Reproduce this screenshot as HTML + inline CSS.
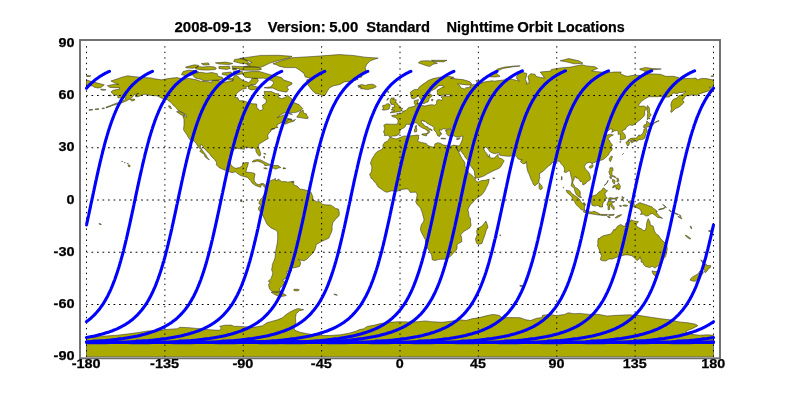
<!DOCTYPE html>
<html><head><meta charset="utf-8"><title>Nighttime Orbit Locations</title>
<style>
html,body{margin:0;padding:0;background:#fff;}
svg{display:block}
text{font-family:"Liberation Sans",sans-serif;font-weight:bold;fill:#000;stroke:#000;stroke-width:0.25px}
</style></head><body>
<svg width="800" height="400" viewBox="0 0 800 400">
<rect width="800" height="400" fill="#fff"/>
<defs><clipPath id="c"><rect x="86" y="43.25" width="628" height="313.7"/></clipPath><clipPath id="t"><rect x="84" y="43.25" width="632" height="313.5"/></clipPath></defs>
<g clip-path="url(#c)">
<g fill="#abaa00" stroke="#222" stroke-width="0.5" stroke-linejoin="round">
<path d="M107.4,85.7 L114.4,84.2 L118.7,84.5 L115.2,83.1 L110.9,81.0 L116.1,79.3 L121.3,77.4 L127.4,75.8 L135.3,76.7 L142.2,77.4 L150.9,77.9 L154.4,78.8 L161.4,79.8 L165.7,79.0 L171.8,78.1 L177.1,77.6 L182.3,79.0 L189.3,78.4 L196.2,79.8 L200.6,81.2 L208.4,81.7 L211.9,82.4 L211.9,80.7 L217.1,80.3 L224.1,82.1 L229.3,81.6 L232.8,81.0 L232.8,78.1 L235.4,74.8 L238.9,77.2 L240.6,79.0 L243.2,80.7 L246.7,81.6 L248.5,82.8 L251.1,80.2 L252.0,78.4 L257.2,78.6 L258.4,80.7 L255.4,84.5 L250.2,84.7 L248.5,86.4 L245.0,86.3 L246.7,88.2 L242.4,89.2 L238.9,91.5 L236.3,93.8 L235.1,97.6 L238.0,97.8 L238.9,100.7 L243.2,100.7 L246.7,101.9 L252.0,103.7 L256.7,104.0 L256.8,107.7 L258.9,109.4 L259.8,110.7 L261.5,110.3 L262.9,108.6 L262.4,105.1 L265.9,103.0 L266.4,99.9 L263.3,97.6 L265.0,95.5 L264.1,91.5 L271.1,91.5 L275.5,93.4 L279.0,93.9 L278.1,97.2 L281.6,98.5 L285.1,97.6 L287.3,95.0 L292.0,99.0 L293.8,102.5 L299.0,104.6 L300.7,106.5 L302.8,108.6 L300.9,110.5 L295.5,112.6 L288.5,112.6 L284.2,112.9 L280.7,114.7 L277.2,117.8 L281.6,115.7 L286.8,114.3 L288.2,115.2 L286.8,116.7 L287.7,119.5 L292.9,120.4 L295.5,119.5 L293.8,121.3 L289.4,122.5 L285.4,124.2 L284.7,122.8 L287.7,121.1 L283.3,121.6 L279.8,123.4 L277.2,124.6 L276.9,126.8 L278.1,127.4 L275.5,127.9 L271.1,129.3 L271.1,131.2 L268.9,132.9 L267.6,135.6 L268.3,138.5 L265.0,140.4 L262.4,142.0 L258.9,144.3 L258.2,146.9 L259.8,150.7 L260.7,153.8 L260.0,156.1 L258.1,155.1 L256.0,151.6 L255.8,149.1 L253.7,147.8 L251.1,148.3 L247.6,147.2 L244.1,147.4 L244.6,149.3 L241.5,149.0 L237.2,148.3 L234.5,149.1 L231.1,151.2 L230.5,154.7 L229.7,160.8 L230.7,164.3 L232.8,166.9 L235.4,168.3 L239.8,167.6 L242.4,165.5 L242.7,163.4 L245.9,162.6 L248.5,162.6 L247.6,166.0 L246.7,168.7 L245.9,172.1 L250.2,172.5 L253.7,173.0 L255.1,173.9 L254.2,178.2 L254.2,180.8 L256.3,183.8 L258.9,184.7 L261.2,183.5 L264.1,183.8 L265.4,185.2 L267.6,183.8 L268.5,181.5 L270.2,180.8 L273.7,179.4 L275.5,178.4 L275.5,180.8 L278.1,180.0 L278.1,178.9 L280.7,180.8 L281.6,181.7 L285.1,181.5 L287.7,182.2 L292.0,181.4 L293.8,183.5 L294.1,185.2 L297.2,186.1 L299.9,189.0 L304.2,189.7 L308.6,190.9 L311.2,192.5 L312.9,196.9 L312.9,200.0 L315.5,200.9 L316.4,201.7 L319.9,201.7 L322.8,204.4 L326.9,204.9 L330.3,204.9 L332.9,206.4 L335.6,208.4 L338.5,209.1 L339.4,213.1 L339.0,215.7 L335.6,219.2 L332.9,222.6 L332.1,226.1 L332.1,230.5 L330.3,234.8 L328.6,238.3 L324.8,240.1 L321.6,241.5 L316.4,244.4 L315.4,247.9 L314.7,250.5 L312.0,254.0 L309.4,256.6 L306.8,259.2 L304.2,260.8 L299.9,260.1 L298.3,259.2 L300.4,261.8 L300.7,263.6 L299.5,266.5 L293.8,267.9 L291.5,267.9 L291.7,271.1 L286.8,271.4 L286.8,273.7 L289.1,274.0 L286.8,275.8 L285.9,278.4 L282.4,280.1 L285.1,282.2 L285.1,283.6 L282.1,286.2 L279.8,288.0 L279.8,290.6 L281.0,291.4 L276.3,292.3 L272.0,291.4 L269.4,288.8 L268.5,284.5 L270.2,281.9 L268.2,281.3 L271.1,278.4 L272.0,275.8 L272.9,273.1 L271.6,269.7 L272.3,266.2 L272.3,264.4 L273.6,261.8 L275.1,257.5 L275.5,252.2 L276.3,247.9 L277.2,243.5 L277.7,238.3 L277.6,231.9 L275.5,230.1 L271.1,227.9 L267.1,224.4 L265.5,220.9 L263.3,216.5 L261.0,212.2 L258.9,210.4 L258.4,207.8 L260.1,205.9 L260.7,204.4 L258.9,203.8 L259.3,201.7 L260.7,199.1 L262.4,197.9 L262.8,196.5 L265.0,193.4 L265.4,190.4 L265.0,187.8 L264.1,186.9 L263.6,185.5 L261.5,184.5 L260.7,187.3 L258.1,186.4 L255.4,185.5 L252.0,182.9 L250.6,180.8 L247.6,177.4 L245.9,177.0 L241.5,175.8 L238.9,174.6 L235.4,171.8 L231.9,172.7 L227.6,171.1 L223.2,169.5 L218.9,167.4 L216.3,164.8 L216.6,162.6 L214.5,159.4 L211.0,155.9 L209.3,153.5 L206.7,151.2 L203.7,147.8 L202.3,145.1 L200.2,144.8 L200.6,147.8 L203.5,151.8 L205.8,154.7 L207.5,157.7 L209.3,159.8 L207.9,159.1 L204.9,156.8 L204.4,154.4 L201.4,152.6 L199.7,151.2 L201.4,149.8 L198.5,147.4 L196.2,143.4 L193.6,140.8 L190.1,139.9 L187.7,136.3 L186.6,134.2 L184.4,131.2 L183.5,129.6 L184.0,125.1 L184.0,119.5 L182.8,115.7 L186.6,117.3 L186.1,114.7 L182.3,112.4 L177.9,110.3 L176.2,107.7 L173.1,105.1 L171.0,102.5 L167.5,99.9 L162.3,98.5 L157.0,95.8 L150.9,95.5 L145.7,94.3 L142.2,94.6 L138.8,96.5 L135.6,96.9 L136.1,94.6 L138.8,93.4 L134.4,94.6 L132.7,96.7 L130.9,98.5 L127.4,100.4 L123.9,102.1 L120.5,103.3 L116.1,104.6 L113.0,105.3 L110.0,106.6 L106.0,107.9 L106.5,106.8 L110.0,105.8 L113.0,104.4 L117.8,102.8 L121.3,101.6 L124.8,99.9 L126.0,97.8 L123.1,97.8 L117.8,97.8 L117.8,95.5 L113.5,94.6 L111.8,92.9 L110.9,92.0 L113.1,90.3 L119.6,89.1 L119.6,87.7 L116.1,87.7 L110.0,87.5Z M280.7,292.0 L286.4,295.3 L284.2,296.1 L279.8,296.7 L275.5,294.9 L271.1,292.3 L276.7,292.0Z M185.3,115.7 L181.4,115.0 L176.5,111.7 L178.8,111.5 L182.3,112.9 L184.9,114.7Z M272.9,63.8 L281.6,60.7 L292.0,57.7 L312.9,56.5 L339.0,54.6 L353.0,55.4 L365.2,57.2 L378.2,58.1 L370.4,60.7 L366.9,64.2 L365.2,67.6 L366.0,71.1 L361.7,73.7 L361.7,77.2 L354.7,77.7 L358.2,79.3 L353.0,81.0 L344.3,81.9 L339.9,84.5 L333.8,85.7 L329.5,87.7 L327.7,90.6 L325.1,95.2 L322.5,95.7 L319.0,94.1 L315.5,93.4 L312.0,90.3 L309.4,86.8 L306.8,83.3 L306.8,79.8 L311.2,78.4 L305.1,76.9 L304.2,73.7 L299.9,70.2 L295.5,67.6 L285.1,67.6 L279.8,66.4 L276.3,64.7Z M286.8,92.0 L288.5,89.4 L286.8,86.8 L292.0,84.2 L292.0,82.8 L283.3,79.8 L281.6,77.6 L276.3,76.3 L271.1,74.9 L265.9,73.4 L259.8,71.6 L252.0,71.5 L244.1,72.3 L243.2,74.6 L245.0,77.2 L252.0,78.1 L257.2,78.4 L263.3,78.1 L269.4,79.8 L272.9,81.2 L273.7,83.3 L272.0,85.0 L271.1,86.8 L264.1,87.7 L267.6,88.2 L272.9,88.0 L275.5,89.4 L278.1,90.6 L285.1,92.0Z M195.4,78.1 L201.4,79.5 L203.2,80.7 L211.9,80.3 L218.0,80.2 L223.2,79.0 L222.3,77.2 L218.0,76.3 L217.1,73.7 L211.9,72.5 L206.7,73.2 L200.6,72.3 L193.6,73.4 L192.7,75.5Z M181.4,74.6 L185.8,76.0 L191.0,75.5 L194.5,73.2 L198.8,72.0 L195.4,70.6 L188.4,70.2 L183.2,71.5Z M243.2,66.8 L260.7,67.3 L264.1,65.9 L269.4,63.3 L278.1,60.7 L290.3,57.5 L292.0,56.3 L278.1,55.3 L260.7,55.4 L248.5,57.2 L239.8,58.4 L248.5,60.7 L252.0,62.4 L246.7,64.2 L250.2,65.4Z M247.6,63.8 L241.5,63.6 L233.7,61.5 L234.5,59.4 L241.5,58.6 L246.7,60.3 L248.5,62.4Z M231.9,66.2 L239.8,66.4 L245.0,66.9 L253.7,66.9 L260.7,68.0 L261.5,69.4 L258.1,70.2 L246.7,70.2 L239.8,70.1 L238.9,68.5 L232.8,68.3Z M233.7,71.1 L242.4,71.5 L243.2,73.7 L238.0,74.6 L233.7,73.7Z M222.3,72.9 L231.1,72.0 L231.9,74.6 L227.6,75.5 L222.3,74.6Z M196.2,69.0 L201.4,69.9 L208.4,70.1 L215.4,69.5 L216.3,68.0 L213.6,66.8 L208.4,66.4 L203.2,67.1 L198.0,66.6 L195.4,68.0Z M218.9,66.6 L229.3,66.2 L230.2,68.5 L226.7,69.4 L222.3,68.9 L218.9,68.5Z M185.8,67.8 L192.7,68.3 L198.0,66.9 L198.8,65.4 L194.5,64.8 L189.3,66.1 L185.8,66.9Z M248.5,88.5 L251.1,89.9 L257.2,89.1 L259.8,87.7 L253.7,85.9 L252.0,85.0 L248.5,86.3Z M227.6,79.8 L232.8,80.5 L233.7,79.0 L229.3,78.1Z M296.7,117.1 L302.5,118.1 L307.7,118.7 L308.2,117.1 L306.8,115.5 L306.3,113.8 L303.3,112.9 L303.3,110.1 L299.9,112.0 L299.0,114.1Z M252.0,161.9 L253.7,160.3 L257.2,159.6 L260.7,159.9 L265.0,162.2 L268.5,163.9 L270.8,164.8 L269.4,165.3 L264.7,165.5 L264.1,163.9 L260.7,162.2 L257.2,161.0 L253.7,162.0Z M270.4,168.0 L272.9,165.3 L275.1,165.5 L278.1,165.5 L280.9,167.6 L278.1,168.1 L275.5,169.2 L273.7,168.3Z M263.6,168.0 L265.9,167.8 L267.3,168.7 L265.5,169.0Z M283.0,167.8 L285.7,168.0 L285.4,168.7 L283.0,168.7Z M389.7,137.6 L390.8,137.5 L394.8,138.7 L396.5,138.9 L400.0,137.6 L402.6,136.4 L405.2,135.9 L408.7,135.9 L413.1,135.6 L417.1,135.0 L419.2,135.6 L418.3,136.8 L418.8,139.0 L417.4,140.4 L419.2,141.7 L421.8,142.7 L423.0,142.7 L426.6,143.7 L427.0,145.1 L430.5,146.4 L433.1,147.2 L434.8,146.0 L434.8,143.9 L437.8,142.7 L440.1,143.2 L443.5,145.0 L447.0,145.5 L450.5,146.2 L452.2,145.5 L454.0,145.1 L456.3,145.7 L456.8,147.8 L456.8,148.6 L458.3,151.2 L459.2,153.0 L461.0,156.5 L461.8,158.2 L464.4,161.7 L465.0,163.4 L464.8,166.0 L467.1,168.7 L468.8,173.0 L471.4,174.7 L474.0,177.4 L475.4,178.2 L475.2,179.6 L476.6,181.7 L478.4,181.9 L481.9,180.5 L485.3,180.3 L489.2,179.1 L488.8,181.7 L488.0,184.3 L486.2,187.8 L484.5,191.3 L481.9,194.8 L479.2,196.5 L476.6,198.3 L474.0,200.9 L472.3,203.1 L470.5,204.4 L469.1,207.0 L467.9,209.6 L468.4,211.8 L468.8,213.9 L469.1,217.4 L470.5,218.3 L470.5,221.8 L471.1,225.3 L469.7,227.9 L466.2,230.1 L464.1,231.3 L460.8,234.5 L461.7,238.3 L461.8,241.8 L457.5,244.1 L457.0,245.3 L457.1,247.9 L456.3,250.2 L454.0,252.2 L452.2,254.5 L449.6,257.1 L447.0,258.5 L444.8,259.2 L440.9,259.2 L438.3,259.6 L434.8,260.6 L432.2,259.7 L431.9,257.1 L431.7,255.2 L430.1,252.2 L428.7,249.8 L426.6,247.0 L425.8,243.5 L425.3,239.7 L423.5,236.6 L421.8,233.1 L420.6,230.5 L420.6,227.9 L421.4,224.4 L423.5,221.8 L424.0,219.2 L423.0,215.7 L421.8,211.3 L421.2,210.4 L420.9,208.7 L419.2,206.6 L417.1,204.4 L415.7,201.7 L416.2,200.0 L416.5,198.3 L417.1,195.6 L416.9,193.4 L415.5,192.2 L412.2,192.3 L410.4,192.5 L409.1,190.4 L407.8,189.0 L405.9,188.9 L402.1,189.4 L400.0,190.1 L396.5,191.6 L394.4,191.1 L391.3,190.9 L386.9,192.3 L384.3,191.3 L381.2,189.0 L378.2,187.1 L377.0,185.2 L376.1,183.5 L373.9,181.2 L373.0,179.4 L370.9,178.2 L370.7,176.5 L369.5,174.4 L371.3,172.1 L371.8,168.7 L371.8,166.4 L371.3,165.2 L370.4,163.4 L371.3,160.8 L372.1,158.7 L374.2,155.6 L374.7,154.4 L376.8,151.9 L377.5,151.4 L380.3,150.2 L382.6,148.6 L383.1,146.9 L382.9,145.1 L384.3,143.0 L385.2,142.0 L386.8,141.5 L388.2,140.6 L389.2,138.7Z M485.9,220.9 L488.0,227.0 L486.2,230.5 L485.0,234.8 L482.7,240.9 L481.9,243.5 L478.4,244.4 L476.6,243.2 L475.4,239.2 L477.2,234.8 L476.6,231.3 L477.5,228.2 L480.1,227.3 L482.7,225.3 L484.5,223.0Z M384.3,135.6 L384.7,132.9 L383.5,132.4 L384.7,128.6 L383.8,125.1 L386.1,123.9 L390.4,124.2 L393.9,124.2 L396.9,124.4 L397.9,122.5 L398.1,119.9 L395.6,117.6 L392.2,116.6 L391.6,115.5 L394.8,115.0 L397.2,115.2 L396.9,113.4 L400.2,113.8 L402.6,112.6 L402.8,111.3 L406.1,110.3 L407.3,109.1 L408.4,107.7 L412.2,106.8 L414.8,106.3 L415.2,104.6 L414.1,103.2 L414.3,100.7 L418.5,99.5 L417.9,101.6 L417.4,103.3 L417.1,104.6 L419.2,105.6 L421.8,105.3 L424.7,106.1 L428.7,105.1 L432.2,104.7 L434.5,105.3 L436.6,103.7 L436.6,101.1 L437.4,99.9 L439.2,99.5 L441.8,100.6 L442.5,98.5 L440.9,96.9 L443.5,96.4 L448.8,96.4 L452.6,95.7 L449.6,94.6 L445.3,94.8 L440.1,95.7 L437.4,94.6 L437.4,92.9 L437.1,90.3 L442.7,87.1 L444.2,86.8 L442.1,85.4 L438.3,85.9 L436.6,88.0 L433.1,89.9 L430.1,91.5 L430.0,94.3 L432.7,95.5 L431.5,96.7 L429.3,98.1 L428.6,100.7 L427.9,102.1 L425.3,102.5 L424.7,103.5 L422.6,103.5 L422.3,101.9 L420.7,99.5 L419.5,97.2 L418.5,95.7 L416.5,97.2 L413.9,98.8 L411.8,98.5 L411.0,96.9 L410.8,94.8 L410.4,92.2 L412.2,90.8 L414.8,89.4 L418.1,89.4 L419.2,87.1 L421.8,85.0 L425.1,82.8 L427.9,80.7 L430.5,79.5 L433.1,78.6 L437.4,77.7 L441.3,76.9 L444.9,76.2 L448.8,76.3 L454.0,77.4 L450.5,78.4 L454.0,78.6 L457.5,79.1 L462.7,79.5 L469.7,81.6 L471.4,83.3 L471.4,84.7 L467.1,85.0 L461.0,84.2 L457.5,83.8 L460.1,85.9 L460.6,87.7 L464.4,88.9 L465.8,87.7 L470.5,87.5 L469.7,85.9 L473.2,84.4 L476.6,84.7 L477.0,81.6 L475.8,80.5 L480.1,81.0 L481.0,83.3 L483.6,82.1 L492.3,80.7 L494.1,81.2 L499.3,80.5 L504.5,79.8 L506.2,78.4 L512.3,79.3 L516.7,80.5 L519.3,81.0 L516.7,78.6 L516.7,76.3 L519.3,73.4 L521.9,72.3 L526.8,73.4 L526.3,76.3 L525.4,79.8 L527.1,82.4 L526.3,84.2 L528.9,83.3 L528.9,80.7 L528.0,76.3 L530.6,73.7 L535.0,74.3 L535.9,76.3 L539.3,77.2 L544.6,78.1 L542.8,75.5 L540.2,72.0 L550.7,71.1 L551.5,69.4 L560.2,68.0 L570.7,67.1 L581.7,64.7 L586.4,65.9 L595.1,66.8 L597.7,68.5 L591.6,70.8 L595.1,71.5 L598.5,71.8 L607.3,72.7 L615.1,72.0 L621.2,72.0 L620.3,73.7 L625.5,76.0 L628.2,76.3 L631.6,75.5 L636.9,75.3 L642.1,75.5 L643.8,73.7 L652.5,73.9 L660.4,74.3 L665.6,76.3 L673.4,76.3 L678.7,77.6 L679.5,78.8 L685.6,78.6 L691.7,78.4 L696.1,78.1 L697.0,80.0 L701.3,78.4 L706.5,78.6 L713.5,80.0 L713.5,86.6 L710.9,87.5 L709.1,87.3 L712.3,90.4 L712.1,91.5 L708.3,91.1 L703.9,92.4 L699.6,93.9 L696.6,95.5 L692.6,94.6 L689.1,95.8 L686.5,95.7 L684.4,97.2 L683.9,99.0 L682.1,99.3 L684.2,102.3 L682.1,104.2 L681.6,105.1 L678.7,107.3 L675.7,108.4 L673.3,110.8 L671.4,112.4 L670.7,111.9 L671.4,108.6 L670.8,105.1 L671.7,101.6 L673.4,99.3 L676.9,98.1 L678.7,95.8 L682.1,94.6 L684.8,92.9 L685.6,91.1 L683.0,92.5 L678.7,92.4 L677.8,93.8 L673.4,92.9 L670.0,96.4 L669.1,96.9 L664.7,97.2 L662.6,96.4 L658.6,96.7 L653.4,96.7 L649.1,96.7 L644.7,99.0 L641.2,101.6 L638.6,105.1 L639.5,106.3 L643.8,106.0 L646.1,107.3 L646.3,109.1 L644.7,111.2 L644.7,114.7 L643.8,116.4 L641.2,119.0 L637.7,121.6 L636.0,123.4 L632.5,125.5 L629.9,124.8 L627.6,126.3 L625.9,128.1 L625.9,128.9 L622.1,130.9 L622.1,131.7 L623.6,132.9 L625.4,135.6 L625.5,138.2 L624.7,138.9 L622.1,139.6 L620.1,140.1 L620.3,138.2 L620.3,135.6 L620.5,134.3 L618.1,134.2 L618.2,131.6 L616.7,130.5 L614.2,131.0 L611.6,132.4 L612.8,129.5 L610.7,128.9 L608.1,130.7 L605.5,131.7 L605.0,132.8 L607.3,135.0 L610.2,134.2 L613.4,134.9 L610.7,136.3 L609.5,137.3 L607.8,139.0 L609.5,140.3 L610.4,142.5 L612.1,144.6 L612.3,146.0 L609.9,147.2 L612.3,147.9 L611.8,150.4 L610.2,151.6 L608.5,154.7 L607.3,156.1 L605.7,157.5 L603.4,159.4 L600.3,160.5 L598.9,161.2 L597.7,161.3 L595.1,162.2 L592.5,163.1 L592.3,164.6 L591.2,162.7 L589.0,162.2 L586.4,163.4 L585.8,164.1 L584.3,166.4 L585.5,169.0 L587.2,170.9 L588.6,172.0 L590.2,176.0 L590.4,179.1 L589.5,180.3 L586.7,181.9 L585.8,183.5 L582.9,185.0 L582.5,182.6 L581.5,181.7 L580.3,181.5 L579.2,179.6 L577.7,178.2 L575.9,177.9 L575.7,176.5 L574.2,176.8 L574.2,179.1 L572.8,181.7 L572.9,184.0 L574.2,185.2 L575.0,187.5 L577.1,188.2 L578.2,189.2 L580.1,191.6 L580.3,193.9 L580.1,195.5 L581.5,197.6 L580.1,197.4 L578.0,196.2 L576.4,194.8 L575.4,192.7 L574.7,190.6 L574.3,188.7 L573.3,187.3 L571.2,186.1 L571.6,183.5 L571.9,181.7 L571.9,179.1 L571.0,176.5 L570.7,174.7 L570.2,171.6 L568.9,170.7 L567.5,171.6 L566.0,172.5 L564.2,172.1 L564.6,169.5 L564.1,167.4 L562.8,165.5 L561.1,163.8 L560.2,162.6 L559.9,161.2 L557.6,161.2 L555.0,162.0 L553.3,162.2 L551.5,162.9 L551.2,164.3 L548.9,165.7 L547.7,166.9 L545.1,169.2 L543.2,171.3 L541.1,172.5 L539.7,173.5 L539.5,176.5 L539.9,177.4 L539.0,180.0 L539.0,182.1 L537.6,183.8 L536.2,184.5 L535.0,185.9 L533.2,184.3 L532.7,182.6 L531.1,179.4 L530.3,177.4 L529.2,174.2 L528.0,172.1 L527.1,168.7 L526.8,166.9 L526.6,163.4 L526.4,161.3 L525.4,163.4 L522.8,163.8 L520.2,161.3 L522.4,159.9 L519.3,159.4 L517.6,158.4 L516.7,156.8 L515.8,155.8 L512.3,156.1 L508.0,156.3 L506.2,156.1 L502.8,155.8 L499.8,155.2 L499.3,153.3 L498.1,152.8 L494.9,153.8 L492.3,153.0 L489.7,151.6 L488.5,149.7 L487.1,147.8 L485.3,147.1 L484.5,147.8 L483.6,148.6 L484.8,151.2 L486.7,153.5 L487.4,154.2 L487.4,155.6 L488.5,156.8 L489.3,154.5 L489.9,156.5 L489.7,157.5 L491.4,158.0 L494.1,158.0 L496.3,155.9 L498.2,154.2 L498.2,156.5 L498.8,157.7 L502.1,158.9 L504.2,160.8 L502.2,164.3 L500.7,166.9 L498.4,168.7 L496.3,169.5 L494.2,170.4 L490.9,172.1 L487.1,174.0 L484.8,175.6 L481.9,176.8 L478.4,177.7 L475.8,178.1 L475.2,176.8 L474.5,173.9 L474.4,171.3 L473.2,169.2 L471.4,166.9 L469.7,164.6 L468.1,162.6 L467.6,159.9 L465.3,157.7 L464.4,155.6 L462.7,153.5 L461.0,151.2 L460.6,148.6 L459.6,151.6 L457.8,150.4 L456.8,147.8 L456.3,145.7 L458.3,145.8 L459.7,145.3 L460.6,143.9 L461.0,142.5 L461.8,141.0 L462.4,139.0 L462.7,137.3 L463.0,136.1 L461.0,136.3 L459.2,137.0 L456.6,137.1 L453.5,135.7 L452.2,137.0 L449.6,136.1 L447.9,135.6 L446.2,133.3 L447.0,132.2 L445.6,131.2 L445.6,130.3 L447.9,129.6 L450.5,129.6 L450.5,128.6 L450.5,128.2 L447.9,128.6 L446.2,129.5 L445.3,128.9 L442.7,128.8 L441.5,130.3 L439.7,129.5 L439.5,131.2 L440.6,132.1 L441.8,134.3 L440.1,133.8 L440.4,134.9 L439.7,136.4 L437.8,135.9 L436.9,134.2 L436.7,133.3 L436.1,132.2 L434.8,130.9 L433.8,129.5 L434.0,127.7 L433.1,126.5 L431.4,125.6 L428.7,124.2 L426.5,123.0 L425.3,121.3 L423.7,121.5 L423.9,120.4 L421.6,120.9 L421.4,122.8 L423.5,124.1 L424.7,126.0 L427.9,127.0 L427.9,127.9 L429.6,128.4 L432.2,130.0 L432.0,130.7 L429.6,129.5 L428.9,130.9 L429.8,132.1 L428.7,133.1 L427.3,134.0 L427.7,132.6 L428.0,131.2 L426.6,130.2 L424.9,128.9 L422.6,128.1 L421.2,127.2 L419.2,126.0 L417.9,124.2 L416.9,123.2 L415.5,122.7 L412.7,123.9 L410.4,124.9 L408.7,124.4 L407.0,124.2 L405.4,125.1 L405.6,126.3 L403.8,127.9 L401.4,128.9 L399.5,131.2 L400.3,132.4 L399.1,133.3 L398.8,134.5 L395.8,135.9 L392.3,136.1 L390.6,137.1 L389.0,136.3 L387.8,135.2 L386.1,135.6Z M86.5,80.0 L93.5,82.1 L98.7,83.3 L104.3,84.9 L100.4,87.7 L97.8,88.0 L94.3,87.3 L92.6,85.9 L89.1,85.9 L88.2,84.5 L86.5,86.6Z M710.9,76.3 L713.5,75.5 L713.5,76.5Z M86.5,75.5 L90.9,75.8 L90.0,76.5 L86.5,76.5Z M390.1,112.9 L393.9,112.4 L398.3,111.7 L402.4,110.8 L400.9,110.3 L403.0,108.4 L400.3,107.9 L400.2,106.8 L399.7,106.0 L397.7,104.6 L397.2,103.3 L396.3,102.5 L394.8,102.5 L395.6,101.6 L396.5,99.9 L393.9,99.5 L393.0,99.7 L394.4,98.1 L391.3,97.9 L390.4,99.9 L390.1,101.6 L390.4,103.3 L391.6,103.3 L391.3,104.6 L393.9,104.4 L394.4,106.0 L394.8,107.0 L392.3,107.2 L392.2,108.0 L392.9,108.9 L391.1,109.8 L393.9,110.3 L394.8,110.7 L392.2,111.2Z M382.6,110.1 L385.2,110.1 L389.0,109.1 L389.6,107.2 L390.2,105.1 L389.2,103.9 L386.9,103.7 L385.2,105.1 L382.6,105.6 L382.9,107.2 L383.5,108.6 L382.1,109.4Z M357.7,85.9 L361.7,84.4 L365.2,85.4 L368.6,84.5 L372.1,84.2 L374.7,85.0 L376.3,86.8 L373.9,88.0 L367.8,89.6 L363.4,88.9 L360.5,88.7 L361.7,87.7 L358.2,87.0 L360.8,86.3Z M418.3,62.8 L424.4,65.0 L429.6,66.6 L433.1,64.2 L437.4,63.3 L433.1,61.5 L427.9,60.7 L420.9,61.0Z M431.4,60.3 L447.0,60.3 L443.5,61.9 L434.8,61.5Z M489.7,76.9 L495.8,77.0 L500.1,76.3 L496.7,73.7 L497.5,71.1 L502.8,68.5 L513.2,66.8 L520.2,65.9 L515.0,65.9 L504.5,67.1 L497.5,69.0 L494.1,72.0 L490.6,74.3Z M567.2,62.1 L574.2,63.8 L582.9,63.3 L579.4,61.0 L568.9,58.6 L560.2,60.7Z M639.5,68.9 L645.6,67.5 L652.5,68.5 L661.2,69.0 L656.0,69.5 L645.6,70.8 L640.4,69.9Z M643.8,72.0 L647.3,71.3 L649.9,72.5 L645.6,72.7Z M647.3,105.4 L649.1,107.3 L649.6,109.4 L649.4,112.9 L651.3,114.7 L649.1,117.3 L649.9,119.0 L648.2,118.5 L647.3,119.9 L647.3,116.4 L647.7,112.9 L647.0,110.3 L647.0,107.2Z M643.8,127.7 L645.9,127.2 L649.6,126.8 L653.4,124.6 L653.1,123.0 L649.1,123.0 L646.8,120.9 L646.4,124.2 L644.4,124.8 L643.5,126.3Z M646.3,127.9 L647.1,130.3 L647.3,132.1 L645.6,133.8 L645.6,135.6 L644.9,137.3 L645.2,137.8 L643.5,139.0 L641.7,139.6 L638.6,139.7 L638.3,140.3 L636.5,141.7 L635.1,140.3 L633.4,139.7 L630.8,140.4 L628.2,141.0 L628.2,139.9 L630.8,138.3 L634.3,138.0 L636.5,138.0 L638.1,135.9 L639.1,134.7 L639.0,135.9 L641.2,134.9 L643.0,132.9 L643.8,130.7 L643.8,129.3Z M628.2,141.0 L629.6,142.2 L629.0,145.1 L627.6,146.0 L626.8,144.3 L625.9,142.5 L627.3,141.1Z M630.8,141.1 L634.3,140.4 L634.6,141.1 L633.4,142.0 L631.6,142.9 L630.6,142.0Z M611.6,156.1 L612.5,156.5 L611.6,159.1 L610.4,161.7 L609.3,160.3 L609.3,158.5 L610.7,156.5Z M589.3,166.6 L591.6,165.2 L593.3,165.7 L592.5,167.3 L590.7,168.3 L589.3,167.6Z M539.3,182.9 L541.4,185.2 L542.6,187.5 L541.9,189.0 L540.2,189.7 L539.2,188.7 L539.0,186.1Z M609.9,167.8 L612.8,167.8 L613.0,170.4 L611.8,172.1 L612.0,174.7 L612.5,175.6 L614.2,176.0 L616.0,177.4 L615.6,177.9 L613.7,176.8 L611.1,176.1 L610.0,175.3 L609.5,173.9 L608.8,171.6 L609.7,170.4Z M618.6,182.9 L620.3,186.1 L620.0,188.7 L618.6,190.1 L618.2,188.7 L616.0,189.2 L616.3,187.3 L614.7,186.9 L612.7,188.0 L613.0,186.1 L615.1,185.0 L617.2,185.0Z M616.5,178.2 L618.2,178.2 L618.9,180.8 L617.7,182.2 L616.7,181.2 L617.4,180.0Z M612.5,179.4 L614.6,180.0 L615.1,181.7 L614.2,184.0 L613.4,182.9 L612.5,181.7Z M604.1,185.4 L606.4,183.5 L608.1,180.3 L607.6,182.1 L605.5,184.7Z M609.5,176.7 L611.3,176.7 L611.6,178.6 L610.4,178.6Z M590.2,197.4 L590.9,196.3 L594.0,195.6 L596.8,194.4 L598.5,192.2 L600.3,191.3 L602.0,189.6 L603.4,187.8 L605.0,189.0 L605.5,189.9 L607.6,190.8 L606.0,192.3 L605.0,192.9 L605.2,194.8 L605.5,196.0 L607.3,198.3 L605.2,198.6 L604.6,200.9 L603.4,202.3 L602.6,204.4 L602.6,207.0 L599.6,207.0 L599.4,205.9 L596.8,205.6 L594.7,206.1 L591.9,205.2 L591.6,202.6 L590.2,200.9 L589.8,199.5 L589.8,198.3Z M566.0,190.2 L569.8,190.9 L571.9,193.6 L574.7,195.6 L576.8,197.0 L579.4,199.0 L580.8,201.7 L582.0,203.1 L584.6,205.2 L584.4,210.3 L582.0,210.1 L580.3,208.7 L578.2,206.6 L575.9,204.4 L574.7,201.7 L572.4,199.1 L571.9,197.0 L569.3,194.4 L567.2,192.7Z M583.2,211.8 L584.6,210.3 L586.0,210.6 L589.0,211.7 L592.5,212.0 L593.3,211.1 L596.1,212.0 L599.2,213.6 L599.4,215.2 L595.9,214.6 L591.6,213.9 L588.1,213.6 L585.5,212.9Z M599.4,214.3 L601.5,214.3 L603.3,214.6 L602.9,215.5 L600.6,215.3Z M603.4,214.6 L605.5,214.3 L607.6,214.6 L607.3,215.3 L603.8,215.7Z M608.7,214.6 L611.6,214.6 L614.2,214.3 L613.9,215.2 L610.7,215.5 L608.7,215.3Z M607.3,216.5 L609.3,216.4 L610.4,217.4 L609.0,217.9Z M615.1,217.9 L616.8,216.2 L619.5,215.0 L621.7,214.6 L620.3,216.0 L617.7,217.4 L616.0,218.1Z M608.7,198.6 L609.0,197.7 L610.7,197.7 L614.2,198.3 L617.7,197.0 L618.1,197.6 L616.8,199.1 L614.2,199.1 L610.7,199.1 L609.3,199.7 L609.0,201.4 L611.6,201.6 L614.7,201.4 L614.9,201.7 L612.8,202.8 L611.6,203.5 L613.0,205.7 L614.2,207.0 L614.2,209.6 L613.5,209.4 L612.5,208.2 L611.3,207.0 L610.7,204.9 L609.5,204.9 L609.7,207.0 L609.5,209.6 L608.1,209.8 L608.0,207.8 L608.1,206.1 L606.9,204.7 L607.8,202.3 L608.7,200.3Z M622.1,196.2 L622.9,197.4 L624.2,197.4 L622.9,199.1 L623.8,201.4 L622.6,200.5 L622.1,198.3Z M622.9,205.2 L625.5,204.9 L627.8,205.7 L626.4,206.3 L623.3,206.1Z M619.5,205.6 L621.2,205.4 L621.5,206.4 L620.0,206.6Z M628.2,201.4 L630.8,200.7 L633.7,201.4 L634.3,204.4 L635.1,205.7 L637.7,203.8 L640.0,202.6 L642.1,203.5 L645.6,204.5 L649.1,205.9 L651.7,206.6 L653.9,208.7 L656.4,210.4 L657.4,211.7 L656.0,211.7 L656.9,213.1 L658.6,215.3 L660.4,216.9 L662.6,218.3 L660.4,217.9 L657.8,217.4 L656.4,216.5 L654.3,214.8 L652.2,213.4 L649.9,214.3 L648.2,216.0 L645.6,215.8 L643.0,214.1 L640.4,214.5 L641.6,212.5 L640.4,209.6 L637.7,208.2 L634.8,207.0 L632.5,206.6 L631.3,207.0 L629.9,205.1 L632.5,204.4 L630.8,203.8 L628.7,202.6Z M658.6,209.8 L661.2,209.4 L663.9,208.7 L665.3,207.5 L664.4,207.3 L663.0,208.5 L661.2,208.5 L658.6,209.4Z M662.6,204.5 L664.7,205.7 L666.5,207.8 L665.8,207.3 L663.9,205.6Z M598.7,238.0 L599.4,239.2 L600.3,237.4 L603.4,235.7 L607.3,234.8 L610.7,234.1 L612.8,231.3 L613.9,229.3 L615.3,230.1 L616.0,228.4 L617.7,226.1 L620.8,224.4 L623.3,226.1 L625.5,226.0 L625.5,223.5 L627.8,221.6 L630.8,221.1 L630.8,219.9 L635.1,221.2 L638.4,221.4 L636.9,223.5 L636.0,225.8 L638.6,227.5 L642.1,229.3 L643.0,230.5 L645.2,230.5 L646.4,227.0 L646.6,223.5 L647.0,221.8 L648.2,218.6 L649.9,221.8 L650.3,224.9 L653.1,226.1 L654.3,230.5 L655.7,233.6 L658.6,235.4 L660.4,238.3 L662.6,240.6 L665.6,243.5 L666.8,245.3 L667.3,249.1 L666.5,253.1 L665.6,256.6 L663.5,258.9 L661.8,262.7 L661.2,265.3 L657.8,266.0 L654.8,268.1 L652.2,266.2 L649.9,267.6 L645.6,266.5 L643.5,264.4 L643.0,262.4 L640.9,262.0 L641.2,260.6 L640.0,256.8 L639.1,259.2 L636.9,260.6 L635.1,258.7 L633.7,257.1 L631.6,255.7 L628.2,254.9 L624.7,255.0 L619.5,256.3 L616.0,257.5 L612.3,259.0 L609.0,259.0 L605.5,261.0 L602.0,260.6 L600.3,259.7 L600.6,258.3 L601.5,255.7 L600.3,253.1 L599.4,250.2 L598.5,247.9 L597.3,245.3 L598.0,243.5 L597.7,241.8 L598.0,239.5Z M652.0,270.9 L655.2,271.6 L658.1,271.1 L658.3,273.1 L657.4,275.2 L655.2,275.9 L653.4,274.5 L652.5,272.8Z M700.8,259.9 L703.6,261.5 L704.4,264.1 L706.2,264.1 L706.5,265.5 L710.0,265.5 L710.9,265.7 L710.0,267.9 L708.3,268.4 L708.1,269.7 L705.7,272.5 L704.3,271.9 L705.1,270.0 L704.1,269.3 L702.7,268.4 L704.3,267.1 L704.4,265.3 L703.4,263.4 L701.3,261.0Z M700.8,270.5 L703.4,271.9 L702.7,273.7 L701.0,275.9 L698.2,277.3 L697.3,279.9 L695.2,281.2 L693.1,281.2 L690.0,280.1 L690.9,278.4 L693.1,276.6 L696.1,274.9 L698.3,273.5 L699.6,271.4Z M86.5,337.8 L102.5,336.2 L117.5,335.2 L125.0,334.3 L137.0,332.7 L147.5,331.0 L158.1,330.3 L169.9,329.2 L177.4,328.7 L179.7,327.3 L189.1,327.7 L199.5,328.7 L210.0,329.8 L219.7,330.3 L221.3,328.0 L219.7,326.3 L225.0,325.2 L231.1,325.1 L234.0,326.3 L239.9,326.4 L253.5,327.3 L262.6,325.7 L266.9,322.8 L272.3,321.2 L277.6,319.8 L282.8,317.6 L285.1,315.3 L289.6,312.2 L293.9,310.1 L297.8,308.5 L303.7,309.7 L299.3,310.8 L296.2,313.7 L295.5,317.6 L295.8,322.8 L293.9,327.3 L294.8,330.3 L300.0,332.2 L307.5,333.8 L320.9,335.5 L330.0,335.5 L340.1,334.8 L349.0,333.2 L356.5,331.0 L359.4,329.6 L363.9,328.7 L367.1,326.4 L374.6,325.1 L380.5,323.5 L389.6,322.3 L398.4,321.7 L407.5,321.9 L417.9,321.7 L425.4,320.9 L431.5,321.7 L442.0,322.3 L451.0,321.2 L459.9,319.8 L466.0,320.5 L471.9,318.8 L479.4,317.6 L487.1,315.6 L493.0,314.4 L498.9,315.3 L502.1,317.6 L510.9,317.6 L520.0,317.7 L525.9,319.8 L530.5,320.5 L536.5,318.3 L541.8,317.6 L542.5,315.3 L550.0,314.4 L556.1,315.6 L564.9,314.4 L568.1,312.7 L574.0,313.7 L579.9,313.4 L589.0,314.4 L598.0,314.3 L607.1,316.0 L617.5,315.3 L629.6,314.8 L640.0,315.6 L650.5,317.2 L661.1,318.8 L670.0,319.8 L679.0,321.9 L688.1,322.8 L695.6,324.2 L697.8,325.7 L692.4,328.7 L688.1,330.3 L685.8,331.7 L691.0,334.3 L699.9,335.2 L707.6,334.8 L713.5,335.3 L713.5,356.8 L86.5,356.8Z M414.5,132.1 L416.7,131.7 L416.9,128.6 L416.0,128.2 L414.5,128.9Z M415.2,127.7 L416.4,127.7 L416.5,125.3 L415.2,126.0Z M421.8,134.0 L427.0,133.5 L426.5,135.9 L424.9,135.7 L421.9,134.7Z M441.1,138.0 L445.6,138.5 L445.6,139.0 L441.1,138.7Z M456.3,139.0 L457.5,138.3 L460.3,138.0 L459.0,139.2 L457.1,139.7Z M293.8,289.3 L297.2,289.2 L299.3,289.7 L298.1,290.9 L294.1,290.7Z M333.8,294.1 L336.4,294.4 L337.3,295.4 L334.7,294.7Z M669.4,209.6 L671.5,211.8 L670.8,212.0 L669.3,210.3Z M672.6,211.7 L678.3,214.3 L678.0,215.0 L672.7,212.5Z M678.0,216.2 L680.1,217.1 L681.8,218.1 L681.8,218.8 L679.2,217.4 L678.0,216.7Z M679.7,214.6 L681.1,216.4 L680.6,216.7 L679.5,215.3Z M685.6,235.0 L688.2,236.6 L690.9,238.7 L690.0,239.0 L687.4,237.6 L685.6,235.9Z M690.2,226.1 L691.2,226.5 L691.7,228.7 L691.0,228.4Z M708.8,230.3 L711.1,230.7 L710.9,231.7 L708.8,231.5Z M711.2,228.7 L713.5,228.2 L713.2,229.3 L711.2,229.6Z M128.3,164.8 L130.0,165.3 L130.2,166.2 L129.0,167.1 L128.1,165.9Z M127.1,163.4 L128.3,163.6 L127.8,164.1Z M124.3,162.4 L125.3,162.7 L124.8,163.1Z M121.7,161.3 L122.6,161.3 L122.2,161.9Z M240.5,200.5 L241.9,200.7 L241.7,201.7 L240.6,201.6Z M519.8,285.3 L522.8,285.5 L522.4,286.6 L520.2,286.4Z M496.1,236.4 L497.2,236.4 L497.2,237.3 L496.3,237.1Z M499.8,234.8 L500.7,235.0 L500.5,235.7 L499.8,235.5Z M492.8,177.9 L494.9,178.1 L494.7,178.6 L493.0,178.6Z M561.5,176.5 L562.1,176.7 L562.0,179.8 L561.3,179.8Z M563.2,187.1 L563.7,187.5 L563.4,188.2Z M263.6,153.3 L265.5,153.7 L265.9,154.4 L264.1,153.8Z M263.8,156.5 L264.5,156.6 L264.7,158.2 L263.8,157.9Z M292.2,181.4 L293.8,181.2 L293.8,182.4 L292.2,182.4Z M89.1,109.6 L92.6,109.4 L92.6,110.1 L89.1,110.3Z M95.2,108.9 L98.7,108.7 L98.7,109.4 L95.2,109.4Z M102.2,108.0 L104.3,107.9 L104.3,108.6 L102.2,108.7Z M130.9,99.2 L134.4,99.0 L134.7,100.2 L131.8,101.1 L130.4,100.0Z M100.8,89.2 L103.9,89.4 L106.0,89.9 L103.0,90.3 L100.8,89.8Z M108.6,95.2 L111.2,95.2 L111.2,95.8 L109.1,95.8Z M168.4,105.8 L170.4,106.0 L171.5,108.9 L169.6,108.0Z M287.7,113.1 L292.0,114.0 L292.4,114.5 L288.5,113.8Z M288.0,118.5 L291.7,119.0 L291.7,119.7 L288.5,119.4Z M271.3,129.1 L274.6,128.4 L274.6,128.9 L271.3,129.5Z M431.7,99.2 L433.1,99.3 L432.7,100.7 L431.5,100.6Z M419.2,103.0 L421.8,102.3 L421.8,103.9 L419.5,104.0Z M417.2,103.3 L418.8,103.3 L418.6,104.2 L417.4,104.0Z M387.3,91.5 L388.7,91.5 L388.5,92.5 L387.8,92.4Z M397.4,94.3 L398.3,94.5 L397.9,95.7 L397.2,95.3Z M387.5,98.5 L389.0,98.3 L388.2,99.3 L386.9,100.4 L386.9,99.7Z M622.4,154.4 L623.5,153.3 L623.3,153.8 L622.6,154.5Z M619.8,141.7 L621.0,141.7 L621.0,142.2 L619.8,142.2Z M583.2,202.8 L584.6,202.8 L585.8,205.2 L584.4,204.9Z M653.4,123.5 L655.7,122.5 L659.2,120.8 L658.6,120.6 L655.3,122.0Z M215.4,62.8 L225.8,62.1 L232.8,63.5 L229.3,64.5 L218.9,64.0Z M201.4,63.5 L208.4,62.9 L209.3,64.8 L203.2,65.0Z M232.3,68.5 L236.3,68.5 L236.6,69.7 L232.8,69.9Z M99.0,223.5 L101.1,224.0 L101.3,224.6 L99.2,224.2Z"/>
</g>
</g>
<g stroke="#000" stroke-width="1" stroke-dasharray="1.4 4.124" fill="none"><line x1="86.50" y1="46.2" x2="86.50" y2="356.75"/><line x1="164.88" y1="46.2" x2="164.88" y2="356.75"/><line x1="243.25" y1="46.2" x2="243.25" y2="356.75"/><line x1="321.62" y1="46.2" x2="321.62" y2="356.75"/><line x1="400.00" y1="46.2" x2="400.00" y2="356.75"/><line x1="478.38" y1="46.2" x2="478.38" y2="356.75"/><line x1="556.75" y1="46.2" x2="556.75" y2="356.75"/><line x1="635.12" y1="46.2" x2="635.12" y2="356.75"/><line x1="713.50" y1="46.2" x2="713.50" y2="356.75"/></g>
<g stroke="#000" stroke-width="1" stroke-dasharray="1.7 3.814" stroke-dashoffset="0.52" fill="none"><line x1="86.5" y1="95.50" x2="714.0" y2="95.50"/><line x1="86.5" y1="147.75" x2="714.0" y2="147.75"/><line x1="86.5" y1="200.00" x2="714.0" y2="200.00"/><line x1="86.5" y1="252.25" x2="714.0" y2="252.25"/><line x1="86.5" y1="304.50" x2="714.0" y2="304.50"/></g>
<g clip-path="url(#t)">
<g fill="none" stroke="#0000ff" stroke-width="3.1" stroke-linecap="round" stroke-linejoin="round">
<polyline points="497.0,71.3 495.6,71.9 494.3,72.6 493.0,73.2 491.8,73.9 490.6,74.5 489.5,75.2 488.4,75.9 487.3,76.5 486.3,77.2 485.4,77.9 484.4,78.6 483.5,79.2 482.6,79.9 481.8,80.6 481.0,81.3 480.2,82.0 479.4,82.7 478.6,83.4 477.9,84.0 477.2,84.7 476.5,85.4 475.9,86.1 475.2,86.8 474.6,87.5 474.0,88.2 473.4,88.9 472.8,89.6 472.2,90.4 471.7,91.1 471.2,91.8 470.6,92.5 470.1,93.2 469.6,93.9 469.1,94.6 468.6,95.3 468.2,96.0 467.7,96.7 467.3,97.5 466.8,98.2 466.4,98.9 466.0,99.6 465.6,100.3 465.2,101.0 464.8,101.7 464.4,102.5 464.0,103.2 463.6,103.9 463.2,104.6 462.9,105.3 462.5,106.1 462.2,106.8 461.8,107.5 461.5,108.2 461.2,108.9 460.8,109.7 460.5,110.4 460.2,111.1 459.9,111.8 459.6,112.6 459.3,113.3 459.0,114.0 458.7,114.7 458.4,115.5 458.1,116.2 457.8,116.9 457.5,117.6 457.2,118.4 457.0,119.1 456.7,119.8 456.4,120.5 456.2,121.3 455.9,122.0 455.7,122.7 455.4,123.5 455.1,124.2 454.9,124.9 454.7,125.6 454.4,126.4 454.2,127.1 453.9,127.8 453.7,128.6 453.5,129.3 453.2,130.0 453.0,130.7 452.8,131.5 452.5,132.2 452.3,132.9 452.1,133.7 451.9,134.4 451.7,135.1 451.4,135.9 451.2,136.6 451.0,137.3 450.8,138.0 450.6,138.8 450.4,139.5 450.2,140.2 450.0,141.0 449.8,141.7 449.6,142.4 449.4,143.2 449.2,143.9 449.0,144.6 448.8,145.4 448.6,146.1 448.4,146.8 448.2,147.6 448.0,148.3 447.8,149.0 447.6,149.8 447.5,150.5 447.3,151.2 447.1,152.0 446.9,152.7 446.7,153.4 446.5,154.2 446.4,154.9 446.2,155.6 446.0,156.4 445.8,157.1 445.6,157.8 445.5,158.6 445.3,159.3 445.1,160.0 444.9,160.8 444.8,161.5 444.6,162.2 444.4,163.0 444.3,163.7 444.1,164.4 443.9,165.2 443.7,165.9 443.6,166.6 443.4,167.4 443.2,168.1 443.1,168.8 442.9,169.6 442.7,170.3 442.6,171.0 442.4,171.8 442.2,172.5 442.1,173.2 441.9,174.0 441.8,174.7 441.6,175.4 441.4,176.2 441.3,176.9 441.1,177.6 440.9,178.4 440.8,179.1 440.6,179.8 440.5,180.6 440.3,181.3 440.1,182.0 440.0,182.8 439.8,183.5 439.7,184.2 439.5,185.0 439.3,185.7 439.2,186.4 439.0,187.2 438.9,187.9 438.7,188.7 438.6,189.4 438.4,190.1 438.2,190.9 438.1,191.6 437.9,192.3 437.8,193.1 437.6,193.8 437.5,194.5 437.3,195.3 437.2,196.0 437.0,196.7 436.8,197.5 436.7,198.2 436.5,198.9 436.4,199.7 436.2,200.4 436.1,201.1 435.9,201.9 435.8,202.6 435.6,203.3 435.4,204.1 435.3,204.8 435.1,205.6 435.0,206.3 434.8,207.0 434.7,207.8 434.5,208.5 434.3,209.2 434.2,210.0 434.0,210.7 433.9,211.4 433.7,212.2 433.6,212.9 433.4,213.6 433.2,214.4 433.1,215.1 432.9,215.8 432.8,216.6 432.6,217.3 432.5,218.0 432.3,218.8 432.1,219.5 432.0,220.2 431.8,221.0 431.6,221.7 431.5,222.5 431.3,223.2 431.2,223.9 431.0,224.7 430.8,225.4 430.7,226.1 430.5,226.9 430.3,227.6 430.2,228.3 430.0,229.1 429.9,229.8 429.7,230.5 429.5,231.3 429.4,232.0 429.2,232.7 429.0,233.5 428.9,234.2 428.7,234.9 428.5,235.7 428.3,236.4 428.2,237.1 428.0,237.9 427.8,238.6 427.6,239.3 427.5,240.1 427.3,240.8 427.1,241.5 426.9,242.3 426.8,243.0 426.6,243.7 426.4,244.5 426.2,245.2 426.1,245.9 425.9,246.7 425.7,247.4 425.5,248.1 425.3,248.9 425.1,249.6 424.9,250.3 424.8,251.1 424.6,251.8 424.4,252.5 424.2,253.3 424.0,254.0 423.8,254.7 423.6,255.5 423.4,256.2 423.2,256.9 423.0,257.7 422.8,258.4 422.6,259.1 422.4,259.8 422.2,260.6 422.0,261.3 421.8,262.0 421.6,262.8 421.4,263.5 421.1,264.2 420.9,265.0 420.7,265.7 420.5,266.4 420.3,267.2 420.0,267.9 419.8,268.6 419.6,269.3 419.4,270.1 419.1,270.8 418.9,271.5 418.7,272.3 418.4,273.0 418.2,273.7 417.9,274.4 417.7,275.2 417.4,275.9 417.2,276.6 416.9,277.4 416.7,278.1 416.4,278.8 416.1,279.5 415.9,280.3 415.6,281.0 415.3,281.7 415.1,282.4 414.8,283.2 414.5,283.9 414.2,284.6 413.9,285.3 413.6,286.1 413.3,286.8 413.0,287.5 412.7,288.2 412.4,289.0 412.1,289.7 411.7,290.4 411.4,291.1 411.1,291.9 410.7,292.6 410.4,293.3 410.0,294.0 409.7,294.7 409.3,295.5 408.9,296.2 408.6,296.9 408.2,297.6 407.8,298.3 407.4,299.1 407.0,299.8 406.6,300.5 406.2,301.2 405.7,301.9 405.3,302.6 404.8,303.3 404.4,304.1 403.9,304.8 403.4,305.5 402.9,306.2 402.4,306.9 401.9,307.6 401.4,308.3 400.9,309.0 400.3,309.7 399.7,310.4 399.2,311.1 398.6,311.8 397.9,312.5 397.3,313.2 396.7,313.9 396.0,314.6 395.3,315.3 394.6,316.0 393.9,316.7 393.1,317.4 392.4,318.1 391.6,318.8 390.7,319.5 389.9,320.2 389.0,320.8 388.1,321.5 387.1,322.2 386.2,322.9 385.1,323.5 384.1,324.2 383.0,324.9 381.9,325.5 380.7,326.2 379.5,326.8 378.2,327.5 376.8,328.1 375.4,328.8 374.0,329.4 372.5,330.0 370.9,330.7 369.2,331.3 367.5,331.9 365.7,332.5 363.8,333.1 361.8,333.7 359.7,334.3 357.5,334.8 355.1,335.4 352.7,336.0 350.1,336.5 347.4,337.0 344.6,337.5 341.6,338.0 338.5,338.5 335.2,338.9 331.7,339.4 328.1,339.8 324.3,340.2 320.3,340.6 316.1,340.9 311.8,341.2 307.3,341.5 302.6,341.8 297.8,342.0 292.8,342.2 287.8,342.4 282.6,342.5 277.3,342.6 272.1,342.6 266.7,342.6 261.5,342.6 256.2,342.5 251.0,342.4 245.9,342.2 240.9,342.1 236.1,341.8 231.4,341.6 226.8,341.3 222.4,341.0"/>
<polyline points="453.9,71.3 452.6,71.9 451.2,72.6 450.0,73.2 448.7,73.9 447.6,74.5 446.4,75.2 445.3,75.9 444.3,76.5 443.3,77.2 442.3,77.9 441.4,78.6 440.5,79.2 439.6,79.9 438.7,80.6 437.9,81.3 437.1,82.0 436.3,82.7 435.6,83.4 434.9,84.0 434.2,84.7 433.5,85.4 432.8,86.1 432.2,86.8 431.5,87.5 430.9,88.2 430.3,88.9 429.8,89.6 429.2,90.4 428.6,91.1 428.1,91.8 427.6,92.5 427.1,93.2 426.6,93.9 426.1,94.6 425.6,95.3 425.1,96.0 424.7,96.7 424.2,97.5 423.8,98.2 423.3,98.9 422.9,99.6 422.5,100.3 422.1,101.0 421.7,101.7 421.3,102.5 420.9,103.2 420.6,103.9 420.2,104.6 419.8,105.3 419.5,106.1 419.1,106.8 418.8,107.5 418.4,108.2 418.1,108.9 417.8,109.7 417.5,110.4 417.1,111.1 416.8,111.8 416.5,112.6 416.2,113.3 415.9,114.0 415.6,114.7 415.3,115.5 415.0,116.2 414.7,116.9 414.5,117.6 414.2,118.4 413.9,119.1 413.6,119.8 413.4,120.5 413.1,121.3 412.9,122.0 412.6,122.7 412.3,123.5 412.1,124.2 411.8,124.9 411.6,125.6 411.4,126.4 411.1,127.1 410.9,127.8 410.6,128.6 410.4,129.3 410.2,130.0 409.9,130.7 409.7,131.5 409.5,132.2 409.3,132.9 409.0,133.7 408.8,134.4 408.6,135.1 408.4,135.9 408.2,136.6 408.0,137.3 407.8,138.0 407.5,138.8 407.3,139.5 407.1,140.2 406.9,141.0 406.7,141.7 406.5,142.4 406.3,143.2 406.1,143.9 405.9,144.6 405.7,145.4 405.5,146.1 405.3,146.8 405.2,147.6 405.0,148.3 404.8,149.0 404.6,149.8 404.4,150.5 404.2,151.2 404.0,152.0 403.8,152.7 403.7,153.4 403.5,154.2 403.3,154.9 403.1,155.6 402.9,156.4 402.8,157.1 402.6,157.8 402.4,158.6 402.2,159.3 402.1,160.0 401.9,160.8 401.7,161.5 401.5,162.2 401.4,163.0 401.2,163.7 401.0,164.4 400.9,165.2 400.7,165.9 400.5,166.6 400.3,167.4 400.2,168.1 400.0,168.8 399.8,169.6 399.7,170.3 399.5,171.0 399.4,171.8 399.2,172.5 399.0,173.2 398.9,174.0 398.7,174.7 398.5,175.4 398.4,176.2 398.2,176.9 398.0,177.6 397.9,178.4 397.7,179.1 397.6,179.8 397.4,180.6 397.2,181.3 397.1,182.0 396.9,182.8 396.8,183.5 396.6,184.2 396.5,185.0 396.3,185.7 396.1,186.4 396.0,187.2 395.8,187.9 395.7,188.7 395.5,189.4 395.3,190.1 395.2,190.9 395.0,191.6 394.9,192.3 394.7,193.1 394.6,193.8 394.4,194.5 394.3,195.3 394.1,196.0 393.9,196.7 393.8,197.5 393.6,198.2 393.5,198.9 393.3,199.7 393.2,200.4 393.0,201.1 392.9,201.9 392.7,202.6 392.5,203.3 392.4,204.1 392.2,204.8 392.1,205.6 391.9,206.3 391.8,207.0 391.6,207.8 391.4,208.5 391.3,209.2 391.1,210.0 391.0,210.7 390.8,211.4 390.7,212.2 390.5,212.9 390.3,213.6 390.2,214.4 390.0,215.1 389.9,215.8 389.7,216.6 389.6,217.3 389.4,218.0 389.2,218.8 389.1,219.5 388.9,220.2 388.8,221.0 388.6,221.7 388.4,222.5 388.3,223.2 388.1,223.9 387.9,224.7 387.8,225.4 387.6,226.1 387.5,226.9 387.3,227.6 387.1,228.3 387.0,229.1 386.8,229.8 386.6,230.5 386.5,231.3 386.3,232.0 386.1,232.7 386.0,233.5 385.8,234.2 385.6,234.9 385.5,235.7 385.3,236.4 385.1,237.1 384.9,237.9 384.8,238.6 384.6,239.3 384.4,240.1 384.2,240.8 384.1,241.5 383.9,242.3 383.7,243.0 383.5,243.7 383.4,244.5 383.2,245.2 383.0,245.9 382.8,246.7 382.6,247.4 382.4,248.1 382.3,248.9 382.1,249.6 381.9,250.3 381.7,251.1 381.5,251.8 381.3,252.5 381.1,253.3 380.9,254.0 380.7,254.7 380.5,255.5 380.3,256.2 380.1,256.9 379.9,257.7 379.7,258.4 379.5,259.1 379.3,259.8 379.1,260.6 378.9,261.3 378.7,262.0 378.5,262.8 378.3,263.5 378.1,264.2 377.9,265.0 377.7,265.7 377.4,266.4 377.2,267.2 377.0,267.9 376.8,268.6 376.5,269.3 376.3,270.1 376.1,270.8 375.8,271.5 375.6,272.3 375.4,273.0 375.1,273.7 374.9,274.4 374.6,275.2 374.4,275.9 374.1,276.6 373.9,277.4 373.6,278.1 373.4,278.8 373.1,279.5 372.8,280.3 372.6,281.0 372.3,281.7 372.0,282.4 371.7,283.2 371.4,283.9 371.1,284.6 370.9,285.3 370.6,286.1 370.3,286.8 370.0,287.5 369.6,288.2 369.3,289.0 369.0,289.7 368.7,290.4 368.4,291.1 368.0,291.9 367.7,292.6 367.3,293.3 367.0,294.0 366.6,294.7 366.3,295.5 365.9,296.2 365.5,296.9 365.1,297.6 364.7,298.3 364.3,299.1 363.9,299.8 363.5,300.5 363.1,301.2 362.7,301.9 362.2,302.6 361.8,303.3 361.3,304.1 360.9,304.8 360.4,305.5 359.9,306.2 359.4,306.9 358.9,307.6 358.3,308.3 357.8,309.0 357.2,309.7 356.7,310.4 356.1,311.1 355.5,311.8 354.9,312.5 354.3,313.2 353.6,313.9 352.9,314.6 352.3,315.3 351.6,316.0 350.8,316.7 350.1,317.4 349.3,318.1 348.5,318.8 347.7,319.5 346.8,320.2 345.9,320.8 345.0,321.5 344.1,322.2 343.1,322.9 342.1,323.5 341.0,324.2 339.9,324.9 338.8,325.5 337.6,326.2 336.4,326.8 335.1,327.5 333.8,328.1 332.4,328.8 330.9,329.4 329.4,330.0 327.8,330.7 326.2,331.3 324.4,331.9 322.6,332.5 320.7,333.1 318.7,333.7 316.6,334.3 314.4,334.8 312.1,335.4 309.6,336.0 307.1,336.5 304.4,337.0 301.5,337.5 298.6,338.0 295.4,338.5 292.1,338.9 288.7,339.4 285.0,339.8 281.2,340.2 277.2,340.6 273.1,340.9 268.7,341.2 264.2,341.5 259.5,341.8 254.7,342.0 249.8,342.2 244.7,342.4 239.5,342.5 234.3,342.6 229.0,342.6 223.7,342.6 218.4,342.6 213.1,342.5 208.0,342.4 202.9,342.2 197.9,342.1 193.0,341.8 188.3,341.6 183.8,341.3 179.4,341.0"/>
<polyline points="410.9,71.3 409.5,71.9 408.2,72.6 406.9,73.2 405.7,73.9 404.5,74.5 403.4,75.2 402.3,75.9 401.2,76.5 400.2,77.2 399.2,77.9 398.3,78.6 397.4,79.2 396.5,79.9 395.7,80.6 394.8,81.3 394.1,82.0 393.3,82.7 392.5,83.4 391.8,84.0 391.1,84.7 390.4,85.4 389.8,86.1 389.1,86.8 388.5,87.5 387.9,88.2 387.3,88.9 386.7,89.6 386.1,90.4 385.6,91.1 385.0,91.8 384.5,92.5 384.0,93.2 383.5,93.9 383.0,94.6 382.5,95.3 382.1,96.0 381.6,96.7 381.2,97.5 380.7,98.2 380.3,98.9 379.9,99.6 379.5,100.3 379.1,101.0 378.7,101.7 378.3,102.5 377.9,103.2 377.5,103.9 377.1,104.6 376.8,105.3 376.4,106.1 376.1,106.8 375.7,107.5 375.4,108.2 375.1,108.9 374.7,109.7 374.4,110.4 374.1,111.1 373.8,111.8 373.5,112.6 373.2,113.3 372.9,114.0 372.6,114.7 372.3,115.5 372.0,116.2 371.7,116.9 371.4,117.6 371.1,118.4 370.9,119.1 370.6,119.8 370.3,120.5 370.1,121.3 369.8,122.0 369.5,122.7 369.3,123.5 369.0,124.2 368.8,124.9 368.5,125.6 368.3,126.4 368.1,127.1 367.8,127.8 367.6,128.6 367.3,129.3 367.1,130.0 366.9,130.7 366.7,131.5 366.4,132.2 366.2,132.9 366.0,133.7 365.8,134.4 365.6,135.1 365.3,135.9 365.1,136.6 364.9,137.3 364.7,138.0 364.5,138.8 364.3,139.5 364.1,140.2 363.9,141.0 363.7,141.7 363.5,142.4 363.3,143.2 363.1,143.9 362.9,144.6 362.7,145.4 362.5,146.1 362.3,146.8 362.1,147.6 361.9,148.3 361.7,149.0 361.5,149.8 361.3,150.5 361.2,151.2 361.0,152.0 360.8,152.7 360.6,153.4 360.4,154.2 360.2,154.9 360.1,155.6 359.9,156.4 359.7,157.1 359.5,157.8 359.4,158.6 359.2,159.3 359.0,160.0 358.8,160.8 358.7,161.5 358.5,162.2 358.3,163.0 358.1,163.7 358.0,164.4 357.8,165.2 357.6,165.9 357.5,166.6 357.3,167.4 357.1,168.1 357.0,168.8 356.8,169.6 356.6,170.3 356.5,171.0 356.3,171.8 356.1,172.5 356.0,173.2 355.8,174.0 355.6,174.7 355.5,175.4 355.3,176.2 355.2,176.9 355.0,177.6 354.8,178.4 354.7,179.1 354.5,179.8 354.3,180.6 354.2,181.3 354.0,182.0 353.9,182.8 353.7,183.5 353.6,184.2 353.4,185.0 353.2,185.7 353.1,186.4 352.9,187.2 352.8,187.9 352.6,188.7 352.4,189.4 352.3,190.1 352.1,190.9 352.0,191.6 351.8,192.3 351.7,193.1 351.5,193.8 351.4,194.5 351.2,195.3 351.0,196.0 350.9,196.7 350.7,197.5 350.6,198.2 350.4,198.9 350.3,199.7 350.1,200.4 350.0,201.1 349.8,201.9 349.6,202.6 349.5,203.3 349.3,204.1 349.2,204.8 349.0,205.6 348.9,206.3 348.7,207.0 348.5,207.8 348.4,208.5 348.2,209.2 348.1,210.0 347.9,210.7 347.8,211.4 347.6,212.2 347.4,212.9 347.3,213.6 347.1,214.4 347.0,215.1 346.8,215.8 346.7,216.6 346.5,217.3 346.3,218.0 346.2,218.8 346.0,219.5 345.9,220.2 345.7,221.0 345.5,221.7 345.4,222.5 345.2,223.2 345.1,223.9 344.9,224.7 344.7,225.4 344.6,226.1 344.4,226.9 344.2,227.6 344.1,228.3 343.9,229.1 343.7,229.8 343.6,230.5 343.4,231.3 343.2,232.0 343.1,232.7 342.9,233.5 342.7,234.2 342.6,234.9 342.4,235.7 342.2,236.4 342.1,237.1 341.9,237.9 341.7,238.6 341.5,239.3 341.4,240.1 341.2,240.8 341.0,241.5 340.8,242.3 340.7,243.0 340.5,243.7 340.3,244.5 340.1,245.2 339.9,245.9 339.8,246.7 339.6,247.4 339.4,248.1 339.2,248.9 339.0,249.6 338.8,250.3 338.6,251.1 338.5,251.8 338.3,252.5 338.1,253.3 337.9,254.0 337.7,254.7 337.5,255.5 337.3,256.2 337.1,256.9 336.9,257.7 336.7,258.4 336.5,259.1 336.3,259.8 336.1,260.6 335.9,261.3 335.7,262.0 335.5,262.8 335.2,263.5 335.0,264.2 334.8,265.0 334.6,265.7 334.4,266.4 334.2,267.2 333.9,267.9 333.7,268.6 333.5,269.3 333.2,270.1 333.0,270.8 332.8,271.5 332.5,272.3 332.3,273.0 332.1,273.7 331.8,274.4 331.6,275.2 331.3,275.9 331.1,276.6 330.8,277.4 330.6,278.1 330.3,278.8 330.0,279.5 329.8,280.3 329.5,281.0 329.2,281.7 328.9,282.4 328.7,283.2 328.4,283.9 328.1,284.6 327.8,285.3 327.5,286.1 327.2,286.8 326.9,287.5 326.6,288.2 326.3,289.0 326.0,289.7 325.6,290.4 325.3,291.1 325.0,291.9 324.6,292.6 324.3,293.3 323.9,294.0 323.6,294.7 323.2,295.5 322.8,296.2 322.5,296.9 322.1,297.6 321.7,298.3 321.3,299.1 320.9,299.8 320.5,300.5 320.0,301.2 319.6,301.9 319.2,302.6 318.7,303.3 318.3,304.1 317.8,304.8 317.3,305.5 316.8,306.2 316.3,306.9 315.8,307.6 315.3,308.3 314.7,309.0 314.2,309.7 313.6,310.4 313.0,311.1 312.4,311.8 311.8,312.5 311.2,313.2 310.6,313.9 309.9,314.6 309.2,315.3 308.5,316.0 307.8,316.7 307.0,317.4 306.2,318.1 305.4,318.8 304.6,319.5 303.8,320.2 302.9,320.8 302.0,321.5 301.0,322.2 300.1,322.9 299.0,323.5 298.0,324.2 296.9,324.9 295.8,325.5 294.6,326.2 293.3,326.8 292.1,327.5 290.7,328.1 289.3,328.8 287.9,329.4 286.4,330.0 284.8,330.7 283.1,331.3 281.4,331.9 279.6,332.5 277.7,333.1 275.7,333.7 273.6,334.3 271.3,334.8 269.0,335.4 266.6,336.0 264.0,336.5 261.3,337.0 258.5,337.5 255.5,338.0 252.4,338.5 249.1,338.9 245.6,339.4 242.0,339.8 238.2,340.2 234.2,340.6 230.0,340.9 225.7,341.2 221.2,341.5 216.5,341.8 211.7,342.0 206.7,342.2 201.6,342.4 196.5,342.5 191.2,342.6 185.9,342.6 180.6,342.6 175.3,342.6 170.1,342.5 164.9,342.4 159.8,342.2 154.8,342.1 150.0,341.8 145.3,341.6 140.7,341.3 136.3,341.0"/>
<polyline points="367.8,71.3 366.4,71.9 365.1,72.6 363.8,73.2 362.6,73.9 361.4,74.5 360.3,75.2 359.2,75.9 358.2,76.5 357.2,77.2 356.2,77.9 355.2,78.6 354.3,79.2 353.5,79.9 352.6,80.6 351.8,81.3 351.0,82.0 350.2,82.7 349.5,83.4 348.8,84.0 348.0,84.7 347.4,85.4 346.7,86.1 346.1,86.8 345.4,87.5 344.8,88.2 344.2,88.9 343.6,89.6 343.1,90.4 342.5,91.1 342.0,91.8 341.5,92.5 340.9,93.2 340.4,93.9 340.0,94.6 339.5,95.3 339.0,96.0 338.6,96.7 338.1,97.5 337.7,98.2 337.2,98.9 336.8,99.6 336.4,100.3 336.0,101.0 335.6,101.7 335.2,102.5 334.8,103.2 334.5,103.9 334.1,104.6 333.7,105.3 333.4,106.1 333.0,106.8 332.7,107.5 332.3,108.2 332.0,108.9 331.7,109.7 331.3,110.4 331.0,111.1 330.7,111.8 330.4,112.6 330.1,113.3 329.8,114.0 329.5,114.7 329.2,115.5 328.9,116.2 328.6,116.9 328.4,117.6 328.1,118.4 327.8,119.1 327.5,119.8 327.3,120.5 327.0,121.3 326.7,122.0 326.5,122.7 326.2,123.5 326.0,124.2 325.7,124.9 325.5,125.6 325.2,126.4 325.0,127.1 324.8,127.8 324.5,128.6 324.3,129.3 324.1,130.0 323.8,130.7 323.6,131.5 323.4,132.2 323.2,132.9 322.9,133.7 322.7,134.4 322.5,135.1 322.3,135.9 322.1,136.6 321.9,137.3 321.6,138.0 321.4,138.8 321.2,139.5 321.0,140.2 320.8,141.0 320.6,141.7 320.4,142.4 320.2,143.2 320.0,143.9 319.8,144.6 319.6,145.4 319.4,146.1 319.2,146.8 319.0,147.6 318.9,148.3 318.7,149.0 318.5,149.8 318.3,150.5 318.1,151.2 317.9,152.0 317.7,152.7 317.6,153.4 317.4,154.2 317.2,154.9 317.0,155.6 316.8,156.4 316.7,157.1 316.5,157.8 316.3,158.6 316.1,159.3 315.9,160.0 315.8,160.8 315.6,161.5 315.4,162.2 315.3,163.0 315.1,163.7 314.9,164.4 314.7,165.2 314.6,165.9 314.4,166.6 314.2,167.4 314.1,168.1 313.9,168.8 313.7,169.6 313.6,170.3 313.4,171.0 313.2,171.8 313.1,172.5 312.9,173.2 312.7,174.0 312.6,174.7 312.4,175.4 312.3,176.2 312.1,176.9 311.9,177.6 311.8,178.4 311.6,179.1 311.5,179.8 311.3,180.6 311.1,181.3 311.0,182.0 310.8,182.8 310.7,183.5 310.5,184.2 310.3,185.0 310.2,185.7 310.0,186.4 309.9,187.2 309.7,187.9 309.6,188.7 309.4,189.4 309.2,190.1 309.1,190.9 308.9,191.6 308.8,192.3 308.6,193.1 308.5,193.8 308.3,194.5 308.1,195.3 308.0,196.0 307.8,196.7 307.7,197.5 307.5,198.2 307.4,198.9 307.2,199.7 307.1,200.4 306.9,201.1 306.7,201.9 306.6,202.6 306.4,203.3 306.3,204.1 306.1,204.8 306.0,205.6 305.8,206.3 305.6,207.0 305.5,207.8 305.3,208.5 305.2,209.2 305.0,210.0 304.9,210.7 304.7,211.4 304.5,212.2 304.4,212.9 304.2,213.6 304.1,214.4 303.9,215.1 303.8,215.8 303.6,216.6 303.4,217.3 303.3,218.0 303.1,218.8 303.0,219.5 302.8,220.2 302.6,221.0 302.5,221.7 302.3,222.5 302.2,223.2 302.0,223.9 301.8,224.7 301.7,225.4 301.5,226.1 301.3,226.9 301.2,227.6 301.0,228.3 300.9,229.1 300.7,229.8 300.5,230.5 300.4,231.3 300.2,232.0 300.0,232.7 299.9,233.5 299.7,234.2 299.5,234.9 299.3,235.7 299.2,236.4 299.0,237.1 298.8,237.9 298.7,238.6 298.5,239.3 298.3,240.1 298.1,240.8 298.0,241.5 297.8,242.3 297.6,243.0 297.4,243.7 297.2,244.5 297.1,245.2 296.9,245.9 296.7,246.7 296.5,247.4 296.3,248.1 296.1,248.9 296.0,249.6 295.8,250.3 295.6,251.1 295.4,251.8 295.2,252.5 295.0,253.3 294.8,254.0 294.6,254.7 294.4,255.5 294.2,256.2 294.0,256.9 293.8,257.7 293.6,258.4 293.4,259.1 293.2,259.8 293.0,260.6 292.8,261.3 292.6,262.0 292.4,262.8 292.2,263.5 292.0,264.2 291.8,265.0 291.5,265.7 291.3,266.4 291.1,267.2 290.9,267.9 290.6,268.6 290.4,269.3 290.2,270.1 290.0,270.8 289.7,271.5 289.5,272.3 289.2,273.0 289.0,273.7 288.8,274.4 288.5,275.2 288.3,275.9 288.0,276.6 287.8,277.4 287.5,278.1 287.2,278.8 287.0,279.5 286.7,280.3 286.4,281.0 286.2,281.7 285.9,282.4 285.6,283.2 285.3,283.9 285.0,284.6 284.7,285.3 284.4,286.1 284.1,286.8 283.8,287.5 283.5,288.2 283.2,289.0 282.9,289.7 282.6,290.4 282.2,291.1 281.9,291.9 281.6,292.6 281.2,293.3 280.9,294.0 280.5,294.7 280.2,295.5 279.8,296.2 279.4,296.9 279.0,297.6 278.6,298.3 278.2,299.1 277.8,299.8 277.4,300.5 277.0,301.2 276.6,301.9 276.1,302.6 275.7,303.3 275.2,304.1 274.7,304.8 274.3,305.5 273.8,306.2 273.3,306.9 272.8,307.6 272.2,308.3 271.7,309.0 271.1,309.7 270.6,310.4 270.0,311.1 269.4,311.8 268.8,312.5 268.1,313.2 267.5,313.9 266.8,314.6 266.1,315.3 265.4,316.0 264.7,316.7 264.0,317.4 263.2,318.1 262.4,318.8 261.6,319.5 260.7,320.2 259.8,320.8 258.9,321.5 258.0,322.2 257.0,322.9 256.0,323.5 254.9,324.2 253.8,324.9 252.7,325.5 251.5,326.2 250.3,326.8 249.0,327.5 247.7,328.1 246.3,328.8 244.8,329.4 243.3,330.0 241.7,330.7 240.1,331.3 238.3,331.9 236.5,332.5 234.6,333.1 232.6,333.7 230.5,334.3 228.3,334.8 226.0,335.4 223.5,336.0 221.0,336.5 218.3,337.0 215.4,337.5 212.5,338.0 209.3,338.5 206.0,338.9 202.6,339.4 198.9,339.8 195.1,340.2 191.1,340.6 187.0,340.9 182.6,341.2 178.1,341.5 173.4,341.8 168.6,342.0 163.7,342.2 158.6,342.4 153.4,342.5 148.2,342.6 142.9,342.6 137.6,342.6 132.3,342.6 127.0,342.5 121.8,342.4 116.7,342.2 111.8,342.1 106.9,341.8 102.2,341.6 97.7,341.3 93.3,341.0"/>
<polyline points="324.8,71.3 323.4,71.9 322.1,72.6 320.8,73.2 319.6,73.9 318.4,74.5 317.3,75.2 316.2,75.9 315.1,76.5 314.1,77.2 313.1,77.9 312.2,78.6 311.3,79.2 310.4,79.9 309.6,80.6 308.7,81.3 307.9,82.0 307.2,82.7 306.4,83.4 305.7,84.0 305.0,84.7 304.3,85.4 303.6,86.1 303.0,86.8 302.4,87.5 301.8,88.2 301.2,88.9 300.6,89.6 300.0,90.4 299.5,91.1 298.9,91.8 298.4,92.5 297.9,93.2 297.4,93.9 296.9,94.6 296.4,95.3 296.0,96.0 295.5,96.7 295.0,97.5 294.6,98.2 294.2,98.9 293.8,99.6 293.3,100.3 292.9,101.0 292.5,101.7 292.2,102.5 291.8,103.2 291.4,103.9 291.0,104.6 290.7,105.3 290.3,106.1 290.0,106.8 289.6,107.5 289.3,108.2 288.9,108.9 288.6,109.7 288.3,110.4 288.0,111.1 287.7,111.8 287.3,112.6 287.0,113.3 286.7,114.0 286.4,114.7 286.2,115.5 285.9,116.2 285.6,116.9 285.3,117.6 285.0,118.4 284.7,119.1 284.5,119.8 284.2,120.5 283.9,121.3 283.7,122.0 283.4,122.7 283.2,123.5 282.9,124.2 282.7,124.9 282.4,125.6 282.2,126.4 281.9,127.1 281.7,127.8 281.5,128.6 281.2,129.3 281.0,130.0 280.8,130.7 280.5,131.5 280.3,132.2 280.1,132.9 279.9,133.7 279.7,134.4 279.4,135.1 279.2,135.9 279.0,136.6 278.8,137.3 278.6,138.0 278.4,138.8 278.2,139.5 278.0,140.2 277.8,141.0 277.6,141.7 277.4,142.4 277.2,143.2 277.0,143.9 276.8,144.6 276.6,145.4 276.4,146.1 276.2,146.8 276.0,147.6 275.8,148.3 275.6,149.0 275.4,149.8 275.2,150.5 275.0,151.2 274.9,152.0 274.7,152.7 274.5,153.4 274.3,154.2 274.1,154.9 274.0,155.6 273.8,156.4 273.6,157.1 273.4,157.8 273.2,158.6 273.1,159.3 272.9,160.0 272.7,160.8 272.5,161.5 272.4,162.2 272.2,163.0 272.0,163.7 271.9,164.4 271.7,165.2 271.5,165.9 271.3,166.6 271.2,167.4 271.0,168.1 270.8,168.8 270.7,169.6 270.5,170.3 270.3,171.0 270.2,171.8 270.0,172.5 269.9,173.2 269.7,174.0 269.5,174.7 269.4,175.4 269.2,176.2 269.0,176.9 268.9,177.6 268.7,178.4 268.6,179.1 268.4,179.8 268.2,180.6 268.1,181.3 267.9,182.0 267.8,182.8 267.6,183.5 267.4,184.2 267.3,185.0 267.1,185.7 267.0,186.4 266.8,187.2 266.7,187.9 266.5,188.7 266.3,189.4 266.2,190.1 266.0,190.9 265.9,191.6 265.7,192.3 265.6,193.1 265.4,193.8 265.2,194.5 265.1,195.3 264.9,196.0 264.8,196.7 264.6,197.5 264.5,198.2 264.3,198.9 264.2,199.7 264.0,200.4 263.8,201.1 263.7,201.9 263.5,202.6 263.4,203.3 263.2,204.1 263.1,204.8 262.9,205.6 262.7,206.3 262.6,207.0 262.4,207.8 262.3,208.5 262.1,209.2 262.0,210.0 261.8,210.7 261.7,211.4 261.5,212.2 261.3,212.9 261.2,213.6 261.0,214.4 260.9,215.1 260.7,215.8 260.5,216.6 260.4,217.3 260.2,218.0 260.1,218.8 259.9,219.5 259.7,220.2 259.6,221.0 259.4,221.7 259.3,222.5 259.1,223.2 258.9,223.9 258.8,224.7 258.6,225.4 258.5,226.1 258.3,226.9 258.1,227.6 258.0,228.3 257.8,229.1 257.6,229.8 257.5,230.5 257.3,231.3 257.1,232.0 257.0,232.7 256.8,233.5 256.6,234.2 256.5,234.9 256.3,235.7 256.1,236.4 255.9,237.1 255.8,237.9 255.6,238.6 255.4,239.3 255.3,240.1 255.1,240.8 254.9,241.5 254.7,242.3 254.5,243.0 254.4,243.7 254.2,244.5 254.0,245.2 253.8,245.9 253.6,246.7 253.5,247.4 253.3,248.1 253.1,248.9 252.9,249.6 252.7,250.3 252.5,251.1 252.3,251.8 252.2,252.5 252.0,253.3 251.8,254.0 251.6,254.7 251.4,255.5 251.2,256.2 251.0,256.9 250.8,257.7 250.6,258.4 250.4,259.1 250.2,259.8 250.0,260.6 249.8,261.3 249.6,262.0 249.3,262.8 249.1,263.5 248.9,264.2 248.7,265.0 248.5,265.7 248.3,266.4 248.0,267.2 247.8,267.9 247.6,268.6 247.4,269.3 247.1,270.1 246.9,270.8 246.7,271.5 246.4,272.3 246.2,273.0 246.0,273.7 245.7,274.4 245.5,275.2 245.2,275.9 245.0,276.6 244.7,277.4 244.4,278.1 244.2,278.8 243.9,279.5 243.7,280.3 243.4,281.0 243.1,281.7 242.8,282.4 242.6,283.2 242.3,283.9 242.0,284.6 241.7,285.3 241.4,286.1 241.1,286.8 240.8,287.5 240.5,288.2 240.2,289.0 239.8,289.7 239.5,290.4 239.2,291.1 238.9,291.9 238.5,292.6 238.2,293.3 237.8,294.0 237.5,294.7 237.1,295.5 236.7,296.2 236.3,296.9 236.0,297.6 235.6,298.3 235.2,299.1 234.8,299.8 234.4,300.5 233.9,301.2 233.5,301.9 233.1,302.6 232.6,303.3 232.2,304.1 231.7,304.8 231.2,305.5 230.7,306.2 230.2,306.9 229.7,307.6 229.2,308.3 228.6,309.0 228.1,309.7 227.5,310.4 226.9,311.1 226.3,311.8 225.7,312.5 225.1,313.2 224.4,313.9 223.8,314.6 223.1,315.3 222.4,316.0 221.7,316.7 220.9,317.4 220.1,318.1 219.3,318.8 218.5,319.5 217.7,320.2 216.8,320.8 215.9,321.5 214.9,322.2 213.9,322.9 212.9,323.5 211.9,324.2 210.8,324.9 209.6,325.5 208.5,326.2 207.2,326.8 206.0,327.5 204.6,328.1 203.2,328.8 201.8,329.4 200.3,330.0 198.7,330.7 197.0,331.3 195.3,331.9 193.5,332.5 191.5,333.1 189.5,333.7 187.4,334.3 185.2,334.8 182.9,335.4 180.5,336.0 177.9,336.5 175.2,337.0 172.4,337.5 169.4,338.0 166.3,338.5 163.0,338.9 159.5,339.4 155.9,339.8 152.1,340.2 148.1,340.6 143.9,340.9 139.6,341.2 135.1,341.5 130.4,341.8 125.6,342.0 120.6,342.2 115.5,342.4 110.4,342.5 105.1,342.6 99.8,342.6 94.5,342.6 89.2,342.6 86.5,342.5"/>
<polyline points="713.5,342.5 711.0,342.5 705.8,342.4 700.7,342.2 695.7,342.1 690.8,341.8 686.1,341.6 681.6,341.3 677.2,341.0"/>
<polyline points="281.7,71.3 280.3,71.9 279.0,72.6 277.7,73.2 276.5,73.9 275.3,74.5 274.2,75.2 273.1,75.9 272.1,76.5 271.1,77.2 270.1,77.9 269.1,78.6 268.2,79.2 267.4,79.9 266.5,80.6 265.7,81.3 264.9,82.0 264.1,82.7 263.4,83.4 262.6,84.0 261.9,84.7 261.3,85.4 260.6,86.1 259.9,86.8 259.3,87.5 258.7,88.2 258.1,88.9 257.5,89.6 257.0,90.4 256.4,91.1 255.9,91.8 255.3,92.5 254.8,93.2 254.3,93.9 253.8,94.6 253.4,95.3 252.9,96.0 252.4,96.7 252.0,97.5 251.6,98.2 251.1,98.9 250.7,99.6 250.3,100.3 249.9,101.0 249.5,101.7 249.1,102.5 248.7,103.2 248.3,103.9 248.0,104.6 247.6,105.3 247.3,106.1 246.9,106.8 246.6,107.5 246.2,108.2 245.9,108.9 245.6,109.7 245.2,110.4 244.9,111.1 244.6,111.8 244.3,112.6 244.0,113.3 243.7,114.0 243.4,114.7 243.1,115.5 242.8,116.2 242.5,116.9 242.2,117.6 242.0,118.4 241.7,119.1 241.4,119.8 241.2,120.5 240.9,121.3 240.6,122.0 240.4,122.7 240.1,123.5 239.9,124.2 239.6,124.9 239.4,125.6 239.1,126.4 238.9,127.1 238.6,127.8 238.4,128.6 238.2,129.3 237.9,130.0 237.7,130.7 237.5,131.5 237.3,132.2 237.0,132.9 236.8,133.7 236.6,134.4 236.4,135.1 236.2,135.9 236.0,136.6 235.7,137.3 235.5,138.0 235.3,138.8 235.1,139.5 234.9,140.2 234.7,141.0 234.5,141.7 234.3,142.4 234.1,143.2 233.9,143.9 233.7,144.6 233.5,145.4 233.3,146.1 233.1,146.8 232.9,147.6 232.7,148.3 232.6,149.0 232.4,149.8 232.2,150.5 232.0,151.2 231.8,152.0 231.6,152.7 231.4,153.4 231.3,154.2 231.1,154.9 230.9,155.6 230.7,156.4 230.5,157.1 230.4,157.8 230.2,158.6 230.0,159.3 229.8,160.0 229.7,160.8 229.5,161.5 229.3,162.2 229.1,163.0 229.0,163.7 228.8,164.4 228.6,165.2 228.5,165.9 228.3,166.6 228.1,167.4 228.0,168.1 227.8,168.8 227.6,169.6 227.5,170.3 227.3,171.0 227.1,171.8 227.0,172.5 226.8,173.2 226.6,174.0 226.5,174.7 226.3,175.4 226.1,176.2 226.0,176.9 225.8,177.6 225.7,178.4 225.5,179.1 225.3,179.8 225.2,180.6 225.0,181.3 224.9,182.0 224.7,182.8 224.5,183.5 224.4,184.2 224.2,185.0 224.1,185.7 223.9,186.4 223.8,187.2 223.6,187.9 223.4,188.7 223.3,189.4 223.1,190.1 223.0,190.9 222.8,191.6 222.7,192.3 222.5,193.1 222.3,193.8 222.2,194.5 222.0,195.3 221.9,196.0 221.7,196.7 221.6,197.5 221.4,198.2 221.3,198.9 221.1,199.7 220.9,200.4 220.8,201.1 220.6,201.9 220.5,202.6 220.3,203.3 220.2,204.1 220.0,204.8 219.8,205.6 219.7,206.3 219.5,207.0 219.4,207.8 219.2,208.5 219.1,209.2 218.9,210.0 218.8,210.7 218.6,211.4 218.4,212.2 218.3,212.9 218.1,213.6 218.0,214.4 217.8,215.1 217.6,215.8 217.5,216.6 217.3,217.3 217.2,218.0 217.0,218.8 216.9,219.5 216.7,220.2 216.5,221.0 216.4,221.7 216.2,222.5 216.0,223.2 215.9,223.9 215.7,224.7 215.6,225.4 215.4,226.1 215.2,226.9 215.1,227.6 214.9,228.3 214.7,229.1 214.6,229.8 214.4,230.5 214.2,231.3 214.1,232.0 213.9,232.7 213.7,233.5 213.6,234.2 213.4,234.9 213.2,235.7 213.1,236.4 212.9,237.1 212.7,237.9 212.5,238.6 212.4,239.3 212.2,240.1 212.0,240.8 211.8,241.5 211.7,242.3 211.5,243.0 211.3,243.7 211.1,244.5 211.0,245.2 210.8,245.9 210.6,246.7 210.4,247.4 210.2,248.1 210.0,248.9 209.9,249.6 209.7,250.3 209.5,251.1 209.3,251.8 209.1,252.5 208.9,253.3 208.7,254.0 208.5,254.7 208.3,255.5 208.1,256.2 207.9,256.9 207.7,257.7 207.5,258.4 207.3,259.1 207.1,259.8 206.9,260.6 206.7,261.3 206.5,262.0 206.3,262.8 206.1,263.5 205.9,264.2 205.6,265.0 205.4,265.7 205.2,266.4 205.0,267.2 204.8,267.9 204.5,268.6 204.3,269.3 204.1,270.1 203.8,270.8 203.6,271.5 203.4,272.3 203.1,273.0 202.9,273.7 202.7,274.4 202.4,275.2 202.2,275.9 201.9,276.6 201.6,277.4 201.4,278.1 201.1,278.8 200.9,279.5 200.6,280.3 200.3,281.0 200.1,281.7 199.8,282.4 199.5,283.2 199.2,283.9 198.9,284.6 198.6,285.3 198.3,286.1 198.0,286.8 197.7,287.5 197.4,288.2 197.1,289.0 196.8,289.7 196.5,290.4 196.1,291.1 195.8,291.9 195.5,292.6 195.1,293.3 194.8,294.0 194.4,294.7 194.0,295.5 193.7,296.2 193.3,296.9 192.9,297.6 192.5,298.3 192.1,299.1 191.7,299.8 191.3,300.5 190.9,301.2 190.4,301.9 190.0,302.6 189.6,303.3 189.1,304.1 188.6,304.8 188.2,305.5 187.7,306.2 187.2,306.9 186.6,307.6 186.1,308.3 185.6,309.0 185.0,309.7 184.5,310.4 183.9,311.1 183.3,311.8 182.7,312.5 182.0,313.2 181.4,313.9 180.7,314.6 180.0,315.3 179.3,316.0 178.6,316.7 177.9,317.4 177.1,318.1 176.3,318.8 175.5,319.5 174.6,320.2 173.7,320.8 172.8,321.5 171.9,322.2 170.9,322.9 169.9,323.5 168.8,324.2 167.7,324.9 166.6,325.5 165.4,326.2 164.2,326.8 162.9,327.5 161.6,328.1 160.2,328.8 158.7,329.4 157.2,330.0 155.6,330.7 154.0,331.3 152.2,331.9 150.4,332.5 148.5,333.1 146.5,333.7 144.4,334.3 142.2,334.8 139.9,335.4 137.4,336.0 134.9,336.5 132.2,337.0 129.3,337.5 126.3,338.0 123.2,338.5 119.9,338.9 116.4,339.4 112.8,339.8 109.0,340.2 105.0,340.6 100.8,340.9 96.5,341.2 92.0,341.5 87.3,341.8 86.5,341.8"/>
<polyline points="713.5,341.8 709.5,342.0 704.5,342.2 699.5,342.4 694.3,342.5 689.1,342.6 683.8,342.6 678.5,342.6 673.2,342.6 667.9,342.5 662.7,342.4 657.6,342.2 652.6,342.1 647.8,341.8 643.1,341.6 638.5,341.3 634.2,341.0"/>
<polyline points="238.7,71.3 237.3,71.9 235.9,72.6 234.7,73.2 233.5,73.9 232.3,74.5 231.1,75.2 230.1,75.9 229.0,76.5 228.0,77.2 227.0,77.9 226.1,78.6 225.2,79.2 224.3,79.9 223.4,80.6 222.6,81.3 221.8,82.0 221.1,82.7 220.3,83.4 219.6,84.0 218.9,84.7 218.2,85.4 217.5,86.1 216.9,86.8 216.3,87.5 215.6,88.2 215.1,88.9 214.5,89.6 213.9,90.4 213.4,91.1 212.8,91.8 212.3,92.5 211.8,93.2 211.3,93.9 210.8,94.6 210.3,95.3 209.8,96.0 209.4,96.7 208.9,97.5 208.5,98.2 208.1,98.9 207.6,99.6 207.2,100.3 206.8,101.0 206.4,101.7 206.0,102.5 205.7,103.2 205.3,103.9 204.9,104.6 204.6,105.3 204.2,106.1 203.8,106.8 203.5,107.5 203.2,108.2 202.8,108.9 202.5,109.7 202.2,110.4 201.9,111.1 201.5,111.8 201.2,112.6 200.9,113.3 200.6,114.0 200.3,114.7 200.0,115.5 199.8,116.2 199.5,116.9 199.2,117.6 198.9,118.4 198.6,119.1 198.4,119.8 198.1,120.5 197.8,121.3 197.6,122.0 197.3,122.7 197.1,123.5 196.8,124.2 196.6,124.9 196.3,125.6 196.1,126.4 195.8,127.1 195.6,127.8 195.4,128.6 195.1,129.3 194.9,130.0 194.7,130.7 194.4,131.5 194.2,132.2 194.0,132.9 193.8,133.7 193.5,134.4 193.3,135.1 193.1,135.9 192.9,136.6 192.7,137.3 192.5,138.0 192.3,138.8 192.1,139.5 191.9,140.2 191.7,141.0 191.4,141.7 191.2,142.4 191.0,143.2 190.8,143.9 190.7,144.6 190.5,145.4 190.3,146.1 190.1,146.8 189.9,147.6 189.7,148.3 189.5,149.0 189.3,149.8 189.1,150.5 188.9,151.2 188.8,152.0 188.6,152.7 188.4,153.4 188.2,154.2 188.0,154.9 187.8,155.6 187.7,156.4 187.5,157.1 187.3,157.8 187.1,158.6 187.0,159.3 186.8,160.0 186.6,160.8 186.4,161.5 186.3,162.2 186.1,163.0 185.9,163.7 185.7,164.4 185.6,165.2 185.4,165.9 185.2,166.6 185.1,167.4 184.9,168.1 184.7,168.8 184.6,169.6 184.4,170.3 184.2,171.0 184.1,171.8 183.9,172.5 183.7,173.2 183.6,174.0 183.4,174.7 183.3,175.4 183.1,176.2 182.9,176.9 182.8,177.6 182.6,178.4 182.4,179.1 182.3,179.8 182.1,180.6 182.0,181.3 181.8,182.0 181.6,182.8 181.5,183.5 181.3,184.2 181.2,185.0 181.0,185.7 180.9,186.4 180.7,187.2 180.5,187.9 180.4,188.7 180.2,189.4 180.1,190.1 179.9,190.9 179.8,191.6 179.6,192.3 179.4,193.1 179.3,193.8 179.1,194.5 179.0,195.3 178.8,196.0 178.7,196.7 178.5,197.5 178.4,198.2 178.2,198.9 178.0,199.7 177.9,200.4 177.7,201.1 177.6,201.9 177.4,202.6 177.3,203.3 177.1,204.1 176.9,204.8 176.8,205.6 176.6,206.3 176.5,207.0 176.3,207.8 176.2,208.5 176.0,209.2 175.9,210.0 175.7,210.7 175.5,211.4 175.4,212.2 175.2,212.9 175.1,213.6 174.9,214.4 174.8,215.1 174.6,215.8 174.4,216.6 174.3,217.3 174.1,218.0 174.0,218.8 173.8,219.5 173.6,220.2 173.5,221.0 173.3,221.7 173.2,222.5 173.0,223.2 172.8,223.9 172.7,224.7 172.5,225.4 172.3,226.1 172.2,226.9 172.0,227.6 171.9,228.3 171.7,229.1 171.5,229.8 171.4,230.5 171.2,231.3 171.0,232.0 170.9,232.7 170.7,233.5 170.5,234.2 170.3,234.9 170.2,235.7 170.0,236.4 169.8,237.1 169.7,237.9 169.5,238.6 169.3,239.3 169.1,240.1 169.0,240.8 168.8,241.5 168.6,242.3 168.4,243.0 168.3,243.7 168.1,244.5 167.9,245.2 167.7,245.9 167.5,246.7 167.4,247.4 167.2,248.1 167.0,248.9 166.8,249.6 166.6,250.3 166.4,251.1 166.2,251.8 166.0,252.5 165.8,253.3 165.7,254.0 165.5,254.7 165.3,255.5 165.1,256.2 164.9,256.9 164.7,257.7 164.5,258.4 164.3,259.1 164.1,259.8 163.9,260.6 163.7,261.3 163.4,262.0 163.2,262.8 163.0,263.5 162.8,264.2 162.6,265.0 162.4,265.7 162.2,266.4 161.9,267.2 161.7,267.9 161.5,268.6 161.3,269.3 161.0,270.1 160.8,270.8 160.6,271.5 160.3,272.3 160.1,273.0 159.8,273.7 159.6,274.4 159.4,275.2 159.1,275.9 158.8,276.6 158.6,277.4 158.3,278.1 158.1,278.8 157.8,279.5 157.5,280.3 157.3,281.0 157.0,281.7 156.7,282.4 156.4,283.2 156.2,283.9 155.9,284.6 155.6,285.3 155.3,286.1 155.0,286.8 154.7,287.5 154.4,288.2 154.0,289.0 153.7,289.7 153.4,290.4 153.1,291.1 152.7,291.9 152.4,292.6 152.1,293.3 151.7,294.0 151.3,294.7 151.0,295.5 150.6,296.2 150.2,296.9 149.9,297.6 149.5,298.3 149.1,299.1 148.7,299.8 148.2,300.5 147.8,301.2 147.4,301.9 147.0,302.6 146.5,303.3 146.0,304.1 145.6,304.8 145.1,305.5 144.6,306.2 144.1,306.9 143.6,307.6 143.1,308.3 142.5,309.0 142.0,309.7 141.4,310.4 140.8,311.1 140.2,311.8 139.6,312.5 139.0,313.2 138.3,313.9 137.7,314.6 137.0,315.3 136.3,316.0 135.5,316.7 134.8,317.4 134.0,318.1 133.2,318.8 132.4,319.5 131.5,320.2 130.7,320.8 129.8,321.5 128.8,322.2 127.8,322.9 126.8,323.5 125.8,324.2 124.7,324.9 123.5,325.5 122.3,326.2 121.1,326.8 119.8,327.5 118.5,328.1 117.1,328.8 115.7,329.4 114.1,330.0 112.6,330.7 110.9,331.3 109.2,331.9 107.3,332.5 105.4,333.1 103.4,333.7 101.3,334.3 99.1,334.8 96.8,335.4 94.4,336.0 91.8,336.5 89.1,337.0 86.5,337.5"/>
<polyline points="713.5,337.5 713.3,337.5 710.3,338.0 707.1,338.5 703.8,338.9 700.4,339.4 696.7,339.8 692.9,340.2 689.0,340.6 684.8,340.9 680.4,341.2 675.9,341.5 671.3,341.8 666.4,342.0 661.5,342.2 656.4,342.4 651.2,342.5 646.0,342.6 640.7,342.6 635.4,342.6 630.1,342.6 624.9,342.5 619.7,342.4 614.6,342.2 609.6,342.1 604.7,341.8 600.0,341.6 595.5,341.3 591.1,341.0"/>
<polyline points="195.6,71.3 194.2,71.9 192.9,72.6 191.6,73.2 190.4,73.9 189.2,74.5 188.1,75.2 187.0,75.9 186.0,76.5 184.9,77.2 184.0,77.9 183.0,78.6 182.1,79.2 181.2,79.9 180.4,80.6 179.6,81.3 178.8,82.0 178.0,82.7 177.3,83.4 176.5,84.0 175.8,84.7 175.1,85.4 174.5,86.1 173.8,86.8 173.2,87.5 172.6,88.2 172.0,88.9 171.4,89.6 170.9,90.4 170.3,91.1 169.8,91.8 169.2,92.5 168.7,93.2 168.2,93.9 167.7,94.6 167.3,95.3 166.8,96.0 166.3,96.7 165.9,97.5 165.4,98.2 165.0,98.9 164.6,99.6 164.2,100.3 163.8,101.0 163.4,101.7 163.0,102.5 162.6,103.2 162.2,103.9 161.9,104.6 161.5,105.3 161.1,106.1 160.8,106.8 160.4,107.5 160.1,108.2 159.8,108.9 159.4,109.7 159.1,110.4 158.8,111.1 158.5,111.8 158.2,112.6 157.9,113.3 157.6,114.0 157.3,114.7 157.0,115.5 156.7,116.2 156.4,116.9 156.1,117.6 155.9,118.4 155.6,119.1 155.3,119.8 155.0,120.5 154.8,121.3 154.5,122.0 154.3,122.7 154.0,123.5 153.8,124.2 153.5,124.9 153.3,125.6 153.0,126.4 152.8,127.1 152.5,127.8 152.3,128.6 152.1,129.3 151.8,130.0 151.6,130.7 151.4,131.5 151.2,132.2 150.9,132.9 150.7,133.7 150.5,134.4 150.3,135.1 150.1,135.9 149.8,136.6 149.6,137.3 149.4,138.0 149.2,138.8 149.0,139.5 148.8,140.2 148.6,141.0 148.4,141.7 148.2,142.4 148.0,143.2 147.8,143.9 147.6,144.6 147.4,145.4 147.2,146.1 147.0,146.8 146.8,147.6 146.6,148.3 146.4,149.0 146.3,149.8 146.1,150.5 145.9,151.2 145.7,152.0 145.5,152.7 145.3,153.4 145.1,154.2 145.0,154.9 144.8,155.6 144.6,156.4 144.4,157.1 144.3,157.8 144.1,158.6 143.9,159.3 143.7,160.0 143.6,160.8 143.4,161.5 143.2,162.2 143.0,163.0 142.9,163.7 142.7,164.4 142.5,165.2 142.4,165.9 142.2,166.6 142.0,167.4 141.8,168.1 141.7,168.8 141.5,169.6 141.3,170.3 141.2,171.0 141.0,171.8 140.9,172.5 140.7,173.2 140.5,174.0 140.4,174.7 140.2,175.4 140.0,176.2 139.9,176.9 139.7,177.6 139.6,178.4 139.4,179.1 139.2,179.8 139.1,180.6 138.9,181.3 138.8,182.0 138.6,182.8 138.4,183.5 138.3,184.2 138.1,185.0 138.0,185.7 137.8,186.4 137.6,187.2 137.5,187.9 137.3,188.7 137.2,189.4 137.0,190.1 136.9,190.9 136.7,191.6 136.5,192.3 136.4,193.1 136.2,193.8 136.1,194.5 135.9,195.3 135.8,196.0 135.6,196.7 135.5,197.5 135.3,198.2 135.1,198.9 135.0,199.7 134.8,200.4 134.7,201.1 134.5,201.9 134.4,202.6 134.2,203.3 134.0,204.1 133.9,204.8 133.7,205.6 133.6,206.3 133.4,207.0 133.3,207.8 133.1,208.5 133.0,209.2 132.8,210.0 132.6,210.7 132.5,211.4 132.3,212.2 132.2,212.9 132.0,213.6 131.9,214.4 131.7,215.1 131.5,215.8 131.4,216.6 131.2,217.3 131.1,218.0 130.9,218.8 130.7,219.5 130.6,220.2 130.4,221.0 130.3,221.7 130.1,222.5 129.9,223.2 129.8,223.9 129.6,224.7 129.4,225.4 129.3,226.1 129.1,226.9 129.0,227.6 128.8,228.3 128.6,229.1 128.5,229.8 128.3,230.5 128.1,231.3 128.0,232.0 127.8,232.7 127.6,233.5 127.5,234.2 127.3,234.9 127.1,235.7 126.9,236.4 126.8,237.1 126.6,237.9 126.4,238.6 126.3,239.3 126.1,240.1 125.9,240.8 125.7,241.5 125.6,242.3 125.4,243.0 125.2,243.7 125.0,244.5 124.8,245.2 124.7,245.9 124.5,246.7 124.3,247.4 124.1,248.1 123.9,248.9 123.7,249.6 123.6,250.3 123.4,251.1 123.2,251.8 123.0,252.5 122.8,253.3 122.6,254.0 122.4,254.7 122.2,255.5 122.0,256.2 121.8,256.9 121.6,257.7 121.4,258.4 121.2,259.1 121.0,259.8 120.8,260.6 120.6,261.3 120.4,262.0 120.2,262.8 120.0,263.5 119.7,264.2 119.5,265.0 119.3,265.7 119.1,266.4 118.9,267.2 118.7,267.9 118.4,268.6 118.2,269.3 118.0,270.1 117.7,270.8 117.5,271.5 117.3,272.3 117.0,273.0 116.8,273.7 116.5,274.4 116.3,275.2 116.0,275.9 115.8,276.6 115.5,277.4 115.3,278.1 115.0,278.8 114.8,279.5 114.5,280.3 114.2,281.0 113.9,281.7 113.7,282.4 113.4,283.2 113.1,283.9 112.8,284.6 112.5,285.3 112.2,286.1 111.9,286.8 111.6,287.5 111.3,288.2 111.0,289.0 110.7,289.7 110.3,290.4 110.0,291.1 109.7,291.9 109.3,292.6 109.0,293.3 108.6,294.0 108.3,294.7 107.9,295.5 107.6,296.2 107.2,296.9 106.8,297.6 106.4,298.3 106.0,299.1 105.6,299.8 105.2,300.5 104.8,301.2 104.3,301.9 103.9,302.6 103.4,303.3 103.0,304.1 102.5,304.8 102.0,305.5 101.5,306.2 101.0,306.9 100.5,307.6 100.0,308.3 99.5,309.0 98.9,309.7 98.3,310.4 97.8,311.1 97.2,311.8 96.6,312.5 95.9,313.2 95.3,313.9 94.6,314.6 93.9,315.3 93.2,316.0 92.5,316.7 91.7,317.4 91.0,318.1 90.2,318.8 89.3,319.5 88.5,320.2 87.6,320.8 86.7,321.5 86.5,321.7"/>
<polyline points="713.5,321.7 712.8,322.2 711.8,322.9 710.8,323.5 709.7,324.2 708.6,324.9 707.5,325.5 706.3,326.2 705.1,326.8 703.8,327.5 702.5,328.1 701.1,328.8 699.6,329.4 698.1,330.0 696.5,330.7 694.8,331.3 693.1,331.9 691.3,332.5 689.4,333.1 687.4,333.7 685.3,334.3 683.1,334.8 680.8,335.4 678.3,336.0 675.7,336.5 673.1,337.0 670.2,337.5 667.2,338.0 664.1,338.5 660.8,338.9 657.3,339.4 653.7,339.8 649.9,340.2 645.9,340.6 641.7,340.9 637.4,341.2 632.9,341.5 628.2,341.8 623.4,342.0 618.4,342.2 613.4,342.4 608.2,342.5 602.9,342.6 597.7,342.6 592.4,342.6 587.1,342.6 581.8,342.5 576.6,342.4 571.5,342.2 566.5,342.1 561.7,341.8 557.0,341.6 552.4,341.3 548.0,341.0"/>
<polyline points="152.5,71.3 151.2,71.9 149.8,72.6 148.6,73.2 147.3,73.9 146.2,74.5 145.0,75.2 143.9,75.9 142.9,76.5 141.9,77.2 140.9,77.9 140.0,78.6 139.1,79.2 138.2,79.9 137.3,80.6 136.5,81.3 135.7,82.0 134.9,82.7 134.2,83.4 133.5,84.0 132.8,84.7 132.1,85.4 131.4,86.1 130.8,86.8 130.1,87.5 129.5,88.2 128.9,88.9 128.4,89.6 127.8,90.4 127.2,91.1 126.7,91.8 126.2,92.5 125.7,93.2 125.2,93.9 124.7,94.6 124.2,95.3 123.7,96.0 123.3,96.7 122.8,97.5 122.4,98.2 122.0,98.9 121.5,99.6 121.1,100.3 120.7,101.0 120.3,101.7 119.9,102.5 119.5,103.2 119.2,103.9 118.8,104.6 118.4,105.3 118.1,106.1 117.7,106.8 117.4,107.5 117.0,108.2 116.7,108.9 116.4,109.7 116.1,110.4 115.7,111.1 115.4,111.8 115.1,112.6 114.8,113.3 114.5,114.0 114.2,114.7 113.9,115.5 113.6,116.2 113.4,116.9 113.1,117.6 112.8,118.4 112.5,119.1 112.3,119.8 112.0,120.5 111.7,121.3 111.5,122.0 111.2,122.7 111.0,123.5 110.7,124.2 110.5,124.9 110.2,125.6 110.0,126.4 109.7,127.1 109.5,127.8 109.2,128.6 109.0,129.3 108.8,130.0 108.5,130.7 108.3,131.5 108.1,132.2 107.9,132.9 107.7,133.7 107.4,134.4 107.2,135.1 107.0,135.9 106.8,136.6 106.6,137.3 106.4,138.0 106.2,138.8 105.9,139.5 105.7,140.2 105.5,141.0 105.3,141.7 105.1,142.4 104.9,143.2 104.7,143.9 104.5,144.6 104.3,145.4 104.2,146.1 104.0,146.8 103.8,147.6 103.6,148.3 103.4,149.0 103.2,149.8 103.0,150.5 102.8,151.2 102.6,152.0 102.5,152.7 102.3,153.4 102.1,154.2 101.9,154.9 101.7,155.6 101.6,156.4 101.4,157.1 101.2,157.8 101.0,158.6 100.8,159.3 100.7,160.0 100.5,160.8 100.3,161.5 100.1,162.2 100.0,163.0 99.8,163.7 99.6,164.4 99.5,165.2 99.3,165.9 99.1,166.6 99.0,167.4 98.8,168.1 98.6,168.8 98.5,169.6 98.3,170.3 98.1,171.0 98.0,171.8 97.8,172.5 97.6,173.2 97.5,174.0 97.3,174.7 97.1,175.4 97.0,176.2 96.8,176.9 96.7,177.6 96.5,178.4 96.3,179.1 96.2,179.8 96.0,180.6 95.9,181.3 95.7,182.0 95.5,182.8 95.4,183.5 95.2,184.2 95.1,185.0 94.9,185.7 94.7,186.4 94.6,187.2 94.4,187.9 94.3,188.7 94.1,189.4 94.0,190.1 93.8,190.9 93.6,191.6 93.5,192.3 93.3,193.1 93.2,193.8 93.0,194.5 92.9,195.3 92.7,196.0 92.6,196.7 92.4,197.5 92.2,198.2 92.1,198.9 91.9,199.7 91.8,200.4 91.6,201.1 91.5,201.9 91.3,202.6 91.1,203.3 91.0,204.1 90.8,204.8 90.7,205.6 90.5,206.3 90.4,207.0 90.2,207.8 90.1,208.5 89.9,209.2 89.7,210.0 89.6,210.7 89.4,211.4 89.3,212.2 89.1,212.9 89.0,213.6 88.8,214.4 88.6,215.1 88.5,215.8 88.3,216.6 88.2,217.3 88.0,218.0 87.8,218.8 87.7,219.5 87.5,220.2 87.4,221.0 87.2,221.7 87.0,222.5 86.9,223.2 86.7,223.9 86.6,224.7 86.5,224.9"/>
<polyline points="713.5,224.9 713.4,225.4 713.2,226.1 713.1,226.9 712.9,227.6 712.7,228.3 712.6,229.1 712.4,229.8 712.2,230.5 712.1,231.3 711.9,232.0 711.7,232.7 711.6,233.5 711.4,234.2 711.2,234.9 711.1,235.7 710.9,236.4 710.7,237.1 710.6,237.9 710.4,238.6 710.2,239.3 710.0,240.1 709.9,240.8 709.7,241.5 709.5,242.3 709.3,243.0 709.1,243.7 709.0,244.5 708.8,245.2 708.6,245.9 708.4,246.7 708.2,247.4 708.1,248.1 707.9,248.9 707.7,249.6 707.5,250.3 707.3,251.1 707.1,251.8 706.9,252.5 706.7,253.3 706.5,254.0 706.3,254.7 706.2,255.5 706.0,256.2 705.8,256.9 705.6,257.7 705.4,258.4 705.2,259.1 705.0,259.8 704.7,260.6 704.5,261.3 704.3,262.0 704.1,262.8 703.9,263.5 703.7,264.2 703.5,265.0 703.3,265.7 703.0,266.4 702.8,267.2 702.6,267.9 702.4,268.6 702.1,269.3 701.9,270.1 701.7,270.8 701.4,271.5 701.2,272.3 701.0,273.0 700.7,273.7 700.5,274.4 700.2,275.2 700.0,275.9 699.7,276.6 699.5,277.4 699.2,278.1 699.0,278.8 698.7,279.5 698.4,280.3 698.2,281.0 697.9,281.7 697.6,282.4 697.3,283.2 697.0,283.9 696.8,284.6 696.5,285.3 696.2,286.1 695.9,286.8 695.6,287.5 695.3,288.2 694.9,289.0 694.6,289.7 694.3,290.4 694.0,291.1 693.6,291.9 693.3,292.6 692.9,293.3 692.6,294.0 692.2,294.7 691.9,295.5 691.5,296.2 691.1,296.9 690.7,297.6 690.4,298.3 690.0,299.1 689.5,299.8 689.1,300.5 688.7,301.2 688.3,301.9 687.8,302.6 687.4,303.3 686.9,304.1 686.5,304.8 686.0,305.5 685.5,306.2 685.0,306.9 684.5,307.6 683.9,308.3 683.4,309.0 682.9,309.7 682.3,310.4 681.7,311.1 681.1,311.8 680.5,312.5 679.9,313.2 679.2,313.9 678.6,314.6 677.9,315.3 677.2,316.0 676.4,316.7 675.7,317.4 674.9,318.1 674.1,318.8 673.3,319.5 672.4,320.2 671.6,320.8 670.6,321.5 669.7,322.2 668.7,322.9 667.7,323.5 666.6,324.2 665.6,324.9 664.4,325.5 663.2,326.2 662.0,326.8 660.7,327.5 659.4,328.1 658.0,328.8 656.6,329.4 655.0,330.0 653.4,330.7 651.8,331.3 650.1,331.9 648.2,332.5 646.3,333.1 644.3,333.7 642.2,334.3 640.0,334.8 637.7,335.4 635.3,336.0 632.7,336.5 630.0,337.0 627.2,337.5 624.2,338.0 621.0,338.5 617.7,338.9 614.3,339.4 610.6,339.8 606.8,340.2 602.8,340.6 598.7,340.9 594.3,341.2 589.8,341.5 585.2,341.8 580.3,342.0 575.4,342.2 570.3,342.4 565.1,342.5 559.9,342.6 554.6,342.6 549.3,342.6 544.0,342.6 538.8,342.5 533.6,342.4 528.5,342.2 523.5,342.1 518.6,341.8 513.9,341.6 509.4,341.3 505.0,341.0"/>
<polyline points="109.5,71.3 108.1,71.9 106.8,72.6 105.5,73.2 104.3,73.9 103.1,74.5 102.0,75.2 100.9,75.9 99.8,76.5 98.8,77.2 97.9,77.9 96.9,78.6 96.0,79.2 95.1,79.9 94.3,80.6 93.5,81.3 92.7,82.0 91.9,82.7 91.1,83.4 90.4,84.0 89.7,84.7 89.0,85.4 88.4,86.1 87.7,86.8 87.1,87.5 86.5,88.2"/>
<polyline points="713.5,88.2 713.5,88.2 712.9,88.9 712.3,89.6 711.7,90.4 711.2,91.1 710.7,91.8 710.1,92.5 709.6,93.2 709.1,93.9 708.6,94.6 708.1,95.3 707.7,96.0 707.2,96.7 706.8,97.5 706.3,98.2 705.9,98.9 705.5,99.6 705.1,100.3 704.7,101.0 704.3,101.7 703.9,102.5 703.5,103.2 703.1,103.9 702.7,104.6 702.4,105.3 702.0,106.1 701.7,106.8 701.3,107.5 701.0,108.2 700.7,108.9 700.3,109.7 700.0,110.4 699.7,111.1 699.4,111.8 699.1,112.6 698.8,113.3 698.5,114.0 698.2,114.7 697.9,115.5 697.6,116.2 697.3,116.9 697.0,117.6 696.7,118.4 696.5,119.1 696.2,119.8 695.9,120.5 695.7,121.3 695.4,122.0 695.2,122.7 694.9,123.5 694.6,124.2 694.4,124.9 694.1,125.6 693.9,126.4 693.7,127.1 693.4,127.8 693.2,128.6 693.0,129.3 692.7,130.0 692.5,130.7 692.3,131.5 692.0,132.2 691.8,132.9 691.6,133.7 691.4,134.4 691.2,135.1 690.9,135.9 690.7,136.6 690.5,137.3 690.3,138.0 690.1,138.8 689.9,139.5 689.7,140.2 689.5,141.0 689.3,141.7 689.1,142.4 688.9,143.2 688.7,143.9 688.5,144.6 688.3,145.4 688.1,146.1 687.9,146.8 687.7,147.6 687.5,148.3 687.3,149.0 687.1,149.8 687.0,150.5 686.8,151.2 686.6,152.0 686.4,152.7 686.2,153.4 686.0,154.2 685.9,154.9 685.7,155.6 685.5,156.4 685.3,157.1 685.1,157.8 685.0,158.6 684.8,159.3 684.6,160.0 684.4,160.8 684.3,161.5 684.1,162.2 683.9,163.0 683.7,163.7 683.6,164.4 683.4,165.2 683.2,165.9 683.1,166.6 682.9,167.4 682.7,168.1 682.6,168.8 682.4,169.6 682.2,170.3 682.1,171.0 681.9,171.8 681.7,172.5 681.6,173.2 681.4,174.0 681.2,174.7 681.1,175.4 680.9,176.2 680.8,176.9 680.6,177.6 680.4,178.4 680.3,179.1 680.1,179.8 680.0,180.6 679.8,181.3 679.6,182.0 679.5,182.8 679.3,183.5 679.2,184.2 679.0,185.0 678.8,185.7 678.7,186.4 678.5,187.2 678.4,187.9 678.2,188.7 678.1,189.4 677.9,190.1 677.7,190.9 677.6,191.6 677.4,192.3 677.3,193.1 677.1,193.8 677.0,194.5 676.8,195.3 676.7,196.0 676.5,196.7 676.3,197.5 676.2,198.2 676.0,198.9 675.9,199.7 675.7,200.4 675.6,201.1 675.4,201.9 675.2,202.6 675.1,203.3 674.9,204.1 674.8,204.8 674.6,205.6 674.5,206.3 674.3,207.0 674.2,207.8 674.0,208.5 673.8,209.2 673.7,210.0 673.5,210.7 673.4,211.4 673.2,212.2 673.1,212.9 672.9,213.6 672.7,214.4 672.6,215.1 672.4,215.8 672.3,216.6 672.1,217.3 671.9,218.0 671.8,218.8 671.6,219.5 671.5,220.2 671.3,221.0 671.1,221.7 671.0,222.5 670.8,223.2 670.7,223.9 670.5,224.7 670.3,225.4 670.2,226.1 670.0,226.9 669.8,227.6 669.7,228.3 669.5,229.1 669.4,229.8 669.2,230.5 669.0,231.3 668.9,232.0 668.7,232.7 668.5,233.5 668.3,234.2 668.2,234.9 668.0,235.7 667.8,236.4 667.7,237.1 667.5,237.9 667.3,238.6 667.1,239.3 667.0,240.1 666.8,240.8 666.6,241.5 666.4,242.3 666.3,243.0 666.1,243.7 665.9,244.5 665.7,245.2 665.5,245.9 665.4,246.7 665.2,247.4 665.0,248.1 664.8,248.9 664.6,249.6 664.4,250.3 664.3,251.1 664.1,251.8 663.9,252.5 663.7,253.3 663.5,254.0 663.3,254.7 663.1,255.5 662.9,256.2 662.7,256.9 662.5,257.7 662.3,258.4 662.1,259.1 661.9,259.8 661.7,260.6 661.5,261.3 661.3,262.0 661.1,262.8 660.9,263.5 660.6,264.2 660.4,265.0 660.2,265.7 660.0,266.4 659.8,267.2 659.5,267.9 659.3,268.6 659.1,269.3 658.9,270.1 658.6,270.8 658.4,271.5 658.2,272.3 657.9,273.0 657.7,273.7 657.4,274.4 657.2,275.2 656.9,275.9 656.7,276.6 656.4,277.4 656.2,278.1 655.9,278.8 655.6,279.5 655.4,280.3 655.1,281.0 654.8,281.7 654.6,282.4 654.3,283.2 654.0,283.9 653.7,284.6 653.4,285.3 653.1,286.1 652.8,286.8 652.5,287.5 652.2,288.2 651.9,289.0 651.6,289.7 651.2,290.4 650.9,291.1 650.6,291.9 650.2,292.6 649.9,293.3 649.5,294.0 649.2,294.7 648.8,295.5 648.4,296.2 648.1,296.9 647.7,297.6 647.3,298.3 646.9,299.1 646.5,299.8 646.1,300.5 645.7,301.2 645.2,301.9 644.8,302.6 644.3,303.3 643.9,304.1 643.4,304.8 642.9,305.5 642.4,306.2 641.9,306.9 641.4,307.6 640.9,308.3 640.4,309.0 639.8,309.7 639.2,310.4 638.7,311.1 638.1,311.8 637.4,312.5 636.8,313.2 636.2,313.9 635.5,314.6 634.8,315.3 634.1,316.0 633.4,316.7 632.6,317.4 631.9,318.1 631.1,318.8 630.2,319.5 629.4,320.2 628.5,320.8 627.6,321.5 626.6,322.2 625.7,322.9 624.6,323.5 623.6,324.2 622.5,324.9 621.4,325.5 620.2,326.2 619.0,326.8 617.7,327.5 616.3,328.1 614.9,328.8 613.5,329.4 612.0,330.0 610.4,330.7 608.7,331.3 607.0,331.9 605.2,332.5 603.3,333.1 601.3,333.7 599.2,334.3 597.0,334.8 594.6,335.4 592.2,336.0 589.6,336.5 586.9,337.0 584.1,337.5 581.1,338.0 578.0,338.5 574.7,338.9 571.2,339.4 567.6,339.8 563.8,340.2 559.8,340.6 555.6,340.9 551.3,341.2 546.8,341.5 542.1,341.8 537.3,342.0 532.3,342.2 527.2,342.4 522.1,342.5 516.8,342.6 511.5,342.6 506.2,342.6 501.0,342.6 495.7,342.5 490.5,342.4 485.4,342.2 480.4,342.1 475.6,341.8 470.9,341.6 466.3,341.3 461.9,341.0"/>
<polyline points="694.6,70.8 693.2,71.4 691.8,72.1 690.5,72.7 689.2,73.4 688.0,74.0 686.8,74.7 685.7,75.3 684.6,76.0 683.6,76.7 682.6,77.3 681.6,78.0 680.7,78.7 679.8,79.4 678.9,80.1 678.0,80.7 677.2,81.4 676.4,82.1 675.7,82.8 674.9,83.5 674.2,84.2 673.5,84.9 672.8,85.6 672.2,86.3 671.5,87.0 670.9,87.7 670.3,88.4 669.7,89.1 669.1,89.8 668.6,90.5 668.0,91.2 667.5,91.9 666.9,92.6 666.4,93.4 665.9,94.1 665.4,94.8 665.0,95.5 664.5,96.2 664.0,96.9 663.6,97.6 663.2,98.4 662.7,99.1 662.3,99.8 661.9,100.5 661.5,101.2 661.1,101.9 660.7,102.7 660.3,103.4 660.0,104.1 659.6,104.8 659.2,105.5 658.9,106.3 658.5,107.0 658.2,107.7 657.8,108.4 657.5,109.2 657.2,109.9 656.9,110.6 656.5,111.3 656.2,112.1 655.9,112.8 655.6,113.5 655.3,114.2 655.0,115.0 654.7,115.7 654.4,116.4 654.2,117.1 653.9,117.9 653.6,118.6 653.3,119.3 653.1,120.1 652.8,120.8 652.5,121.5 652.3,122.2 652.0,123.0 651.8,123.7 651.5,124.4 651.3,125.2 651.0,125.9 650.8,126.6 650.5,127.3 650.3,128.1 650.1,128.8 649.8,129.5 649.6,130.3 649.4,131.0 649.1,131.7 648.9,132.5 648.7,133.2 648.5,133.9 648.2,134.7 648.0,135.4 647.8,136.1 647.6,136.9 647.4,137.6 647.2,138.3 647.0,139.1 646.8,139.8 646.6,140.5 646.3,141.3 646.1,142.0 645.9,142.7 645.7,143.4 645.5,144.2 645.4,144.9 645.2,145.6 645.0,146.4 644.8,147.1 644.6,147.9 644.4,148.6 644.2,149.3 644.0,150.1 643.8,150.8 643.6,151.5 643.5,152.3 643.3,153.0 643.1,153.7 642.9,154.5 642.7,155.2 642.5,155.9 642.4,156.7 642.2,157.4 642.0,158.1 641.8,158.9 641.7,159.6 641.5,160.3 641.3,161.1 641.1,161.8 641.0,162.5 640.8,163.3 640.6,164.0 640.4,164.7 640.3,165.5 640.1,166.2 639.9,167.0 639.8,167.7 639.6,168.4 639.4,169.2 639.3,169.9 639.1,170.6 638.9,171.4 638.8,172.1 638.6,172.8 638.4,173.6 638.3,174.3 638.1,175.0 638.0,175.8 637.8,176.5 637.6,177.3 637.5,178.0 637.3,178.7 637.1,179.5 637.0,180.2 636.8,180.9 636.7,181.7 636.5,182.4 636.3,183.1 636.2,183.9 636.0,184.6 635.9,185.4 635.7,186.1 635.6,186.8 635.4,187.6 635.2,188.3 635.1,189.0 634.9,189.8 634.8,190.5 634.6,191.2 634.5,192.0 634.3,192.7 634.1,193.5 634.0,194.2 633.8,194.9 633.7,195.7 633.5,196.4 633.4,197.1 633.2,197.9 633.0,198.6 632.9,199.3 632.7,200.1 632.6,200.8 632.4,201.6 632.3,202.3 632.1,203.0 632.0,203.8 631.8,204.5 631.6,205.2 631.5,206.0 631.3,206.7 631.2,207.4 631.0,208.2 630.9,208.9 630.7,209.7 630.5,210.4 630.4,211.1 630.2,211.9 630.1,212.6 629.9,213.3 629.8,214.1 629.6,214.8 629.4,215.5 629.3,216.3 629.1,217.0 629.0,217.7 628.8,218.5 628.6,219.2 628.5,220.0 628.3,220.7 628.2,221.4 628.0,222.2 627.8,222.9 627.7,223.6 627.5,224.4 627.3,225.1 627.2,225.8 627.0,226.6 626.9,227.3 626.7,228.1 626.5,228.8 626.4,229.5 626.2,230.3 626.0,231.0 625.9,231.7 625.7,232.5 625.5,233.2 625.4,233.9 625.2,234.7 625.0,235.4 624.8,236.1 624.7,236.9 624.5,237.6 624.3,238.3 624.2,239.1 624.0,239.8 623.8,240.6 623.6,241.3 623.4,242.0 623.3,242.8 623.1,243.5 622.9,244.2 622.7,245.0 622.6,245.7 622.4,246.4 622.2,247.2 622.0,247.9 621.8,248.6 621.6,249.4 621.4,250.1 621.3,250.8 621.1,251.6 620.9,252.3 620.7,253.0 620.5,253.8 620.3,254.5 620.1,255.2 619.9,256.0 619.7,256.7 619.5,257.4 619.3,258.2 619.1,258.9 618.9,259.6 618.7,260.4 618.5,261.1 618.3,261.8 618.1,262.6 617.9,263.3 617.6,264.0 617.4,264.8 617.2,265.5 617.0,266.2 616.8,267.0 616.5,267.7 616.3,268.4 616.1,269.2 615.9,269.9 615.6,270.6 615.4,271.3 615.2,272.1 614.9,272.8 614.7,273.5 614.4,274.3 614.2,275.0 613.9,275.7 613.7,276.5 613.4,277.2 613.2,277.9 612.9,278.6 612.6,279.4 612.4,280.1 612.1,280.8 611.8,281.6 611.6,282.3 611.3,283.0 611.0,283.7 610.7,284.5 610.4,285.2 610.1,285.9 609.8,286.6 609.5,287.4 609.2,288.1 608.9,288.8 608.6,289.5 608.2,290.3 607.9,291.0 607.6,291.7 607.2,292.4 606.9,293.2 606.5,293.9 606.2,294.6 605.8,295.3 605.5,296.1 605.1,296.8 604.7,297.5 604.3,298.2 603.9,298.9 603.5,299.6 603.1,300.4 602.7,301.1 602.2,301.8 601.8,302.5 601.4,303.2 600.9,303.9 600.4,304.7 599.9,305.4 599.5,306.1 599.0,306.8 598.4,307.5 597.9,308.2 597.4,308.9 596.8,309.6 596.3,310.3 595.7,311.0 595.1,311.7 594.5,312.5 593.8,313.2 593.2,313.9 592.5,314.6 591.8,315.2 591.1,315.9 590.4,316.6 589.7,317.3 588.9,318.0 588.1,318.7 587.3,319.4 586.4,320.1 585.5,320.8 584.6,321.4 583.7,322.1 582.7,322.8 581.7,323.5 580.6,324.1 579.6,324.8 578.4,325.5 577.2,326.1 576.0,326.8 574.7,327.4 573.4,328.1 572.0,328.7 570.6,329.4 569.0,330.0 567.5,330.6 565.8,331.2 564.1,331.9 562.3,332.5 560.4,333.1 558.4,333.7 556.3,334.2 554.1,334.8 551.7,335.4 549.3,335.9 546.7,336.5 544.0,337.0 541.2,337.5 538.2,338.0 535.1,338.5 531.8,338.9 528.3,339.4 524.7,339.8 520.9,340.2 516.9,340.6 512.7,340.9 508.4,341.2 503.9,341.5 499.2,341.8 494.4,342.0 489.4,342.2 484.3,342.4 479.2,342.5 473.9,342.6 468.6,342.6 463.3,342.6 458.0,342.6 452.7,342.5 447.5,342.4 442.4,342.2 437.4,342.1 432.5,341.8 427.8,341.6 423.3,341.3 418.9,341.0"/>
<polyline points="651.6,70.8 650.1,71.4 648.8,72.1 647.4,72.7 646.2,73.4 644.9,74.0 643.8,74.7 642.7,75.3 641.6,76.0 640.5,76.7 639.5,77.3 638.6,78.0 637.6,78.7 636.7,79.4 635.8,80.1 635.0,80.7 634.2,81.4 633.4,82.1 632.6,82.8 631.9,83.5 631.1,84.2 630.4,84.9 629.8,85.6 629.1,86.3 628.5,87.0 627.8,87.7 627.2,88.4 626.6,89.1 626.1,89.8 625.5,90.5 624.9,91.2 624.4,91.9 623.9,92.6 623.4,93.4 622.9,94.1 622.4,94.8 621.9,95.5 621.4,96.2 621.0,96.9 620.5,97.6 620.1,98.4 619.7,99.1 619.3,99.8 618.8,100.5 618.4,101.2 618.0,101.9 617.7,102.7 617.3,103.4 616.9,104.1 616.5,104.8 616.2,105.5 615.8,106.3 615.5,107.0 615.1,107.7 614.8,108.4 614.5,109.2 614.1,109.9 613.8,110.6 613.5,111.3 613.2,112.1 612.9,112.8 612.6,113.5 612.3,114.2 612.0,115.0 611.7,115.7 611.4,116.4 611.1,117.1 610.8,117.9 610.5,118.6 610.3,119.3 610.0,120.1 609.7,120.8 609.5,121.5 609.2,122.2 609.0,123.0 608.7,123.7 608.4,124.4 608.2,125.2 608.0,125.9 607.7,126.6 607.5,127.3 607.2,128.1 607.0,128.8 606.8,129.5 606.5,130.3 606.3,131.0 606.1,131.7 605.8,132.5 605.6,133.2 605.4,133.9 605.2,134.7 605.0,135.4 604.8,136.1 604.5,136.9 604.3,137.6 604.1,138.3 603.9,139.1 603.7,139.8 603.5,140.5 603.3,141.3 603.1,142.0 602.9,142.7 602.7,143.4 602.5,144.2 602.3,144.9 602.1,145.6 601.9,146.4 601.7,147.1 601.5,147.9 601.3,148.6 601.1,149.3 601.0,150.1 600.8,150.8 600.6,151.5 600.4,152.3 600.2,153.0 600.0,153.7 599.8,154.5 599.7,155.2 599.5,155.9 599.3,156.7 599.1,157.4 599.0,158.1 598.8,158.9 598.6,159.6 598.4,160.3 598.3,161.1 598.1,161.8 597.9,162.5 597.7,163.3 597.6,164.0 597.4,164.7 597.2,165.5 597.1,166.2 596.9,167.0 596.7,167.7 596.5,168.4 596.4,169.2 596.2,169.9 596.0,170.6 595.9,171.4 595.7,172.1 595.6,172.8 595.4,173.6 595.2,174.3 595.1,175.0 594.9,175.8 594.7,176.5 594.6,177.3 594.4,178.0 594.3,178.7 594.1,179.5 593.9,180.2 593.8,180.9 593.6,181.7 593.4,182.4 593.3,183.1 593.1,183.9 593.0,184.6 592.8,185.4 592.7,186.1 592.5,186.8 592.3,187.6 592.2,188.3 592.0,189.0 591.9,189.8 591.7,190.5 591.6,191.2 591.4,192.0 591.2,192.7 591.1,193.5 590.9,194.2 590.8,194.9 590.6,195.7 590.5,196.4 590.3,197.1 590.1,197.9 590.0,198.6 589.8,199.3 589.7,200.1 589.5,200.8 589.4,201.6 589.2,202.3 589.1,203.0 588.9,203.8 588.7,204.5 588.6,205.2 588.4,206.0 588.3,206.7 588.1,207.4 588.0,208.2 587.8,208.9 587.6,209.7 587.5,210.4 587.3,211.1 587.2,211.9 587.0,212.6 586.9,213.3 586.7,214.1 586.5,214.8 586.4,215.5 586.2,216.3 586.1,217.0 585.9,217.7 585.7,218.5 585.6,219.2 585.4,220.0 585.3,220.7 585.1,221.4 584.9,222.2 584.8,222.9 584.6,223.6 584.5,224.4 584.3,225.1 584.1,225.8 584.0,226.6 583.8,227.3 583.6,228.1 583.5,228.8 583.3,229.5 583.1,230.3 583.0,231.0 582.8,231.7 582.6,232.5 582.5,233.2 582.3,233.9 582.1,234.7 582.0,235.4 581.8,236.1 581.6,236.9 581.4,237.6 581.3,238.3 581.1,239.1 580.9,239.8 580.7,240.6 580.6,241.3 580.4,242.0 580.2,242.8 580.0,243.5 579.9,244.2 579.7,245.0 579.5,245.7 579.3,246.4 579.1,247.2 578.9,247.9 578.8,248.6 578.6,249.4 578.4,250.1 578.2,250.8 578.0,251.6 577.8,252.3 577.6,253.0 577.4,253.8 577.2,254.5 577.0,255.2 576.8,256.0 576.7,256.7 576.5,257.4 576.2,258.2 576.0,258.9 575.8,259.6 575.6,260.4 575.4,261.1 575.2,261.8 575.0,262.6 574.8,263.3 574.6,264.0 574.4,264.8 574.2,265.5 573.9,266.2 573.7,267.0 573.5,267.7 573.3,268.4 573.0,269.2 572.8,269.9 572.6,270.6 572.3,271.3 572.1,272.1 571.9,272.8 571.6,273.5 571.4,274.3 571.1,275.0 570.9,275.7 570.6,276.5 570.4,277.2 570.1,277.9 569.9,278.6 569.6,279.4 569.3,280.1 569.1,280.8 568.8,281.6 568.5,282.3 568.2,283.0 567.9,283.7 567.7,284.5 567.4,285.2 567.1,285.9 566.8,286.6 566.5,287.4 566.1,288.1 565.8,288.8 565.5,289.5 565.2,290.3 564.9,291.0 564.5,291.7 564.2,292.4 563.8,293.2 563.5,293.9 563.1,294.6 562.8,295.3 562.4,296.1 562.0,296.8 561.6,297.5 561.3,298.2 560.9,298.9 560.5,299.6 560.0,300.4 559.6,301.1 559.2,301.8 558.7,302.5 558.3,303.2 557.8,303.9 557.4,304.7 556.9,305.4 556.4,306.1 555.9,306.8 555.4,307.5 554.9,308.2 554.3,308.9 553.8,309.6 553.2,310.3 552.6,311.0 552.0,311.7 551.4,312.5 550.8,313.2 550.1,313.9 549.5,314.6 548.8,315.2 548.1,315.9 547.4,316.6 546.6,317.3 545.8,318.0 545.0,318.7 544.2,319.4 543.4,320.1 542.5,320.8 541.6,321.4 540.6,322.1 539.7,322.8 538.6,323.5 537.6,324.1 536.5,324.8 535.4,325.5 534.2,326.1 533.0,326.8 531.7,327.4 530.3,328.1 529.0,328.7 527.5,329.4 526.0,330.0 524.4,330.6 522.8,331.2 521.0,331.9 519.2,332.5 517.3,333.1 515.3,333.7 513.2,334.2 511.0,334.8 508.7,335.4 506.2,335.9 503.7,336.5 501.0,337.0 498.2,337.5 495.2,338.0 492.0,338.5 488.7,338.9 485.3,339.4 481.6,339.8 477.8,340.2 473.8,340.6 469.7,340.9 465.3,341.2 460.8,341.5 456.1,341.8 451.3,342.0 446.4,342.2 441.3,342.4 436.1,342.5 430.8,342.6 425.5,342.6 420.2,342.6 414.9,342.6 409.7,342.5 404.5,342.4 399.3,342.2 394.4,342.1 389.5,341.8 384.8,341.6 380.2,341.3 375.8,341.0"/>
<polyline points="608.5,70.8 607.1,71.4 605.7,72.1 604.4,72.7 603.1,73.4 601.9,74.0 600.7,74.7 599.6,75.3 598.5,76.0 597.5,76.7 596.5,77.3 595.5,78.0 594.6,78.7 593.7,79.4 592.8,80.1 591.9,80.7 591.1,81.4 590.3,82.1 589.6,82.8 588.8,83.5 588.1,84.2 587.4,84.9 586.7,85.6 586.1,86.3 585.4,87.0 584.8,87.7 584.2,88.4 583.6,89.1 583.0,89.8 582.4,90.5 581.9,91.2 581.4,91.9 580.8,92.6 580.3,93.4 579.8,94.1 579.3,94.8 578.9,95.5 578.4,96.2 577.9,96.9 577.5,97.6 577.1,98.4 576.6,99.1 576.2,99.8 575.8,100.5 575.4,101.2 575.0,101.9 574.6,102.7 574.2,103.4 573.8,104.1 573.5,104.8 573.1,105.5 572.8,106.3 572.4,107.0 572.1,107.7 571.7,108.4 571.4,109.2 571.1,109.9 570.7,110.6 570.4,111.3 570.1,112.1 569.8,112.8 569.5,113.5 569.2,114.2 568.9,115.0 568.6,115.7 568.3,116.4 568.0,117.1 567.8,117.9 567.5,118.6 567.2,119.3 566.9,120.1 566.7,120.8 566.4,121.5 566.2,122.2 565.9,123.0 565.6,123.7 565.4,124.4 565.1,125.2 564.9,125.9 564.7,126.6 564.4,127.3 564.2,128.1 563.9,128.8 563.7,129.5 563.5,130.3 563.2,131.0 563.0,131.7 562.8,132.5 562.6,133.2 562.3,133.9 562.1,134.7 561.9,135.4 561.7,136.1 561.5,136.9 561.3,137.6 561.1,138.3 560.9,139.1 560.6,139.8 560.4,140.5 560.2,141.3 560.0,142.0 559.8,142.7 559.6,143.4 559.4,144.2 559.2,144.9 559.0,145.6 558.9,146.4 558.7,147.1 558.5,147.9 558.3,148.6 558.1,149.3 557.9,150.1 557.7,150.8 557.5,151.5 557.3,152.3 557.2,153.0 557.0,153.7 556.8,154.5 556.6,155.2 556.4,155.9 556.3,156.7 556.1,157.4 555.9,158.1 555.7,158.9 555.5,159.6 555.4,160.3 555.2,161.1 555.0,161.8 554.8,162.5 554.7,163.3 554.5,164.0 554.3,164.7 554.2,165.5 554.0,166.2 553.8,167.0 553.7,167.7 553.5,168.4 553.3,169.2 553.2,169.9 553.0,170.6 552.8,171.4 552.7,172.1 552.5,172.8 552.3,173.6 552.2,174.3 552.0,175.0 551.8,175.8 551.7,176.5 551.5,177.3 551.4,178.0 551.2,178.7 551.0,179.5 550.9,180.2 550.7,180.9 550.6,181.7 550.4,182.4 550.2,183.1 550.1,183.9 549.9,184.6 549.8,185.4 549.6,186.1 549.4,186.8 549.3,187.6 549.1,188.3 549.0,189.0 548.8,189.8 548.7,190.5 548.5,191.2 548.3,192.0 548.2,192.7 548.0,193.5 547.9,194.2 547.7,194.9 547.6,195.7 547.4,196.4 547.2,197.1 547.1,197.9 546.9,198.6 546.8,199.3 546.6,200.1 546.5,200.8 546.3,201.6 546.2,202.3 546.0,203.0 545.8,203.8 545.7,204.5 545.5,205.2 545.4,206.0 545.2,206.7 545.1,207.4 544.9,208.2 544.7,208.9 544.6,209.7 544.4,210.4 544.3,211.1 544.1,211.9 544.0,212.6 543.8,213.3 543.6,214.1 543.5,214.8 543.3,215.5 543.2,216.3 543.0,217.0 542.8,217.7 542.7,218.5 542.5,219.2 542.4,220.0 542.2,220.7 542.0,221.4 541.9,222.2 541.7,222.9 541.6,223.6 541.4,224.4 541.2,225.1 541.1,225.8 540.9,226.6 540.7,227.3 540.6,228.1 540.4,228.8 540.2,229.5 540.1,230.3 539.9,231.0 539.7,231.7 539.6,232.5 539.4,233.2 539.2,233.9 539.1,234.7 538.9,235.4 538.7,236.1 538.6,236.9 538.4,237.6 538.2,238.3 538.0,239.1 537.9,239.8 537.7,240.6 537.5,241.3 537.3,242.0 537.2,242.8 537.0,243.5 536.8,244.2 536.6,245.0 536.4,245.7 536.3,246.4 536.1,247.2 535.9,247.9 535.7,248.6 535.5,249.4 535.3,250.1 535.1,250.8 535.0,251.6 534.8,252.3 534.6,253.0 534.4,253.8 534.2,254.5 534.0,255.2 533.8,256.0 533.6,256.7 533.4,257.4 533.2,258.2 533.0,258.9 532.8,259.6 532.6,260.4 532.4,261.1 532.2,261.8 532.0,262.6 531.7,263.3 531.5,264.0 531.3,264.8 531.1,265.5 530.9,266.2 530.7,267.0 530.4,267.7 530.2,268.4 530.0,269.2 529.7,269.9 529.5,270.6 529.3,271.3 529.0,272.1 528.8,272.8 528.6,273.5 528.3,274.3 528.1,275.0 527.8,275.7 527.6,276.5 527.3,277.2 527.1,277.9 526.8,278.6 526.5,279.4 526.3,280.1 526.0,280.8 525.7,281.6 525.4,282.3 525.2,283.0 524.9,283.7 524.6,284.5 524.3,285.2 524.0,285.9 523.7,286.6 523.4,287.4 523.1,288.1 522.8,288.8 522.5,289.5 522.1,290.3 521.8,291.0 521.5,291.7 521.1,292.4 520.8,293.2 520.4,293.9 520.1,294.6 519.7,295.3 519.3,296.1 519.0,296.8 518.6,297.5 518.2,298.2 517.8,298.9 517.4,299.6 517.0,300.4 516.6,301.1 516.1,301.8 515.7,302.5 515.2,303.2 514.8,303.9 514.3,304.7 513.8,305.4 513.3,306.1 512.8,306.8 512.3,307.5 511.8,308.2 511.3,308.9 510.7,309.6 510.1,310.3 509.6,311.0 509.0,311.7 508.4,312.5 507.7,313.2 507.1,313.9 506.4,314.6 505.7,315.2 505.0,315.9 504.3,316.6 503.6,317.3 502.8,318.0 502.0,318.7 501.2,319.4 500.3,320.1 499.4,320.8 498.5,321.4 497.6,322.1 496.6,322.8 495.6,323.5 494.5,324.1 493.4,324.8 492.3,325.5 491.1,326.1 489.9,326.8 488.6,327.4 487.3,328.1 485.9,328.7 484.5,329.4 482.9,330.0 481.4,330.6 479.7,331.2 478.0,331.9 476.1,332.5 474.2,333.1 472.2,333.7 470.1,334.2 467.9,334.8 465.6,335.4 463.2,335.9 460.6,336.5 457.9,337.0 455.1,337.5 452.1,338.0 449.0,338.5 445.7,338.9 442.2,339.4 438.6,339.8 434.8,340.2 430.8,340.6 426.6,340.9 422.3,341.2 417.8,341.5 413.1,341.8 408.3,342.0 403.3,342.2 398.2,342.4 393.0,342.5 387.8,342.6 382.5,342.6 377.2,342.6 371.9,342.6 366.6,342.5 361.4,342.4 356.3,342.2 351.3,342.1 346.4,341.8 341.7,341.6 337.2,341.3 332.8,341.0"/>
<polyline points="565.5,70.8 564.0,71.4 562.6,72.1 561.3,72.7 560.1,73.4 558.8,74.0 557.7,74.7 556.5,75.3 555.5,76.0 554.4,76.7 553.4,77.3 552.4,78.0 551.5,78.7 550.6,79.4 549.7,80.1 548.9,80.7 548.1,81.4 547.3,82.1 546.5,82.8 545.8,83.5 545.0,84.2 544.3,84.9 543.7,85.6 543.0,86.3 542.4,87.0 541.7,87.7 541.1,88.4 540.5,89.1 539.9,89.8 539.4,90.5 538.8,91.2 538.3,91.9 537.8,92.6 537.3,93.4 536.8,94.1 536.3,94.8 535.8,95.5 535.3,96.2 534.9,96.9 534.4,97.6 534.0,98.4 533.6,99.1 533.1,99.8 532.7,100.5 532.3,101.2 531.9,101.9 531.5,102.7 531.2,103.4 530.8,104.1 530.4,104.8 530.1,105.5 529.7,106.3 529.4,107.0 529.0,107.7 528.7,108.4 528.3,109.2 528.0,109.9 527.7,110.6 527.4,111.3 527.1,112.1 526.8,112.8 526.4,113.5 526.1,114.2 525.9,115.0 525.6,115.7 525.3,116.4 525.0,117.1 524.7,117.9 524.4,118.6 524.2,119.3 523.9,120.1 523.6,120.8 523.4,121.5 523.1,122.2 522.8,123.0 522.6,123.7 522.3,124.4 522.1,125.2 521.8,125.9 521.6,126.6 521.4,127.3 521.1,128.1 520.9,128.8 520.7,129.5 520.4,130.3 520.2,131.0 520.0,131.7 519.7,132.5 519.5,133.2 519.3,133.9 519.1,134.7 518.9,135.4 518.6,136.1 518.4,136.9 518.2,137.6 518.0,138.3 517.8,139.1 517.6,139.8 517.4,140.5 517.2,141.3 517.0,142.0 516.8,142.7 516.6,143.4 516.4,144.2 516.2,144.9 516.0,145.6 515.8,146.4 515.6,147.1 515.4,147.9 515.2,148.6 515.0,149.3 514.8,150.1 514.7,150.8 514.5,151.5 514.3,152.3 514.1,153.0 513.9,153.7 513.7,154.5 513.6,155.2 513.4,155.9 513.2,156.7 513.0,157.4 512.8,158.1 512.7,158.9 512.5,159.6 512.3,160.3 512.1,161.1 512.0,161.8 511.8,162.5 511.6,163.3 511.4,164.0 511.3,164.7 511.1,165.5 510.9,166.2 510.8,167.0 510.6,167.7 510.4,168.4 510.3,169.2 510.1,169.9 509.9,170.6 509.8,171.4 509.6,172.1 509.4,172.8 509.3,173.6 509.1,174.3 508.9,175.0 508.8,175.8 508.6,176.5 508.5,177.3 508.3,178.0 508.1,178.7 508.0,179.5 507.8,180.2 507.7,180.9 507.5,181.7 507.3,182.4 507.2,183.1 507.0,183.9 506.9,184.6 506.7,185.4 506.5,186.1 506.4,186.8 506.2,187.6 506.1,188.3 505.9,189.0 505.8,189.8 505.6,190.5 505.4,191.2 505.3,192.0 505.1,192.7 505.0,193.5 504.8,194.2 504.7,194.9 504.5,195.7 504.3,196.4 504.2,197.1 504.0,197.9 503.9,198.6 503.7,199.3 503.6,200.1 503.4,200.8 503.3,201.6 503.1,202.3 502.9,203.0 502.8,203.8 502.6,204.5 502.5,205.2 502.3,206.0 502.2,206.7 502.0,207.4 501.8,208.2 501.7,208.9 501.5,209.7 501.4,210.4 501.2,211.1 501.1,211.9 500.9,212.6 500.7,213.3 500.6,214.1 500.4,214.8 500.3,215.5 500.1,216.3 499.9,217.0 499.8,217.7 499.6,218.5 499.5,219.2 499.3,220.0 499.1,220.7 499.0,221.4 498.8,222.2 498.7,222.9 498.5,223.6 498.3,224.4 498.2,225.1 498.0,225.8 497.9,226.6 497.7,227.3 497.5,228.1 497.4,228.8 497.2,229.5 497.0,230.3 496.9,231.0 496.7,231.7 496.5,232.5 496.4,233.2 496.2,233.9 496.0,234.7 495.8,235.4 495.7,236.1 495.5,236.9 495.3,237.6 495.2,238.3 495.0,239.1 494.8,239.8 494.6,240.6 494.5,241.3 494.3,242.0 494.1,242.8 493.9,243.5 493.7,244.2 493.6,245.0 493.4,245.7 493.2,246.4 493.0,247.2 492.8,247.9 492.7,248.6 492.5,249.4 492.3,250.1 492.1,250.8 491.9,251.6 491.7,252.3 491.5,253.0 491.3,253.8 491.1,254.5 490.9,255.2 490.7,256.0 490.5,256.7 490.3,257.4 490.1,258.2 489.9,258.9 489.7,259.6 489.5,260.4 489.3,261.1 489.1,261.8 488.9,262.6 488.7,263.3 488.5,264.0 488.3,264.8 488.0,265.5 487.8,266.2 487.6,267.0 487.4,267.7 487.2,268.4 486.9,269.2 486.7,269.9 486.5,270.6 486.2,271.3 486.0,272.1 485.8,272.8 485.5,273.5 485.3,274.3 485.0,275.0 484.8,275.7 484.5,276.5 484.3,277.2 484.0,277.9 483.7,278.6 483.5,279.4 483.2,280.1 482.9,280.8 482.7,281.6 482.4,282.3 482.1,283.0 481.8,283.7 481.5,284.5 481.2,285.2 481.0,285.9 480.6,286.6 480.3,287.4 480.0,288.1 479.7,288.8 479.4,289.5 479.1,290.3 478.8,291.0 478.4,291.7 478.1,292.4 477.7,293.2 477.4,293.9 477.0,294.6 476.7,295.3 476.3,296.1 475.9,296.8 475.5,297.5 475.1,298.2 474.7,298.9 474.3,299.6 473.9,300.4 473.5,301.1 473.1,301.8 472.6,302.5 472.2,303.2 471.7,303.9 471.3,304.7 470.8,305.4 470.3,306.1 469.8,306.8 469.3,307.5 468.7,308.2 468.2,308.9 467.7,309.6 467.1,310.3 466.5,311.0 465.9,311.7 465.3,312.5 464.7,313.2 464.0,313.9 463.4,314.6 462.7,315.2 462.0,315.9 461.2,316.6 460.5,317.3 459.7,318.0 458.9,318.7 458.1,319.4 457.3,320.1 456.4,320.8 455.5,321.4 454.5,322.1 453.5,322.8 452.5,323.5 451.5,324.1 450.4,324.8 449.3,325.5 448.1,326.1 446.8,326.8 445.6,327.4 444.2,328.1 442.8,328.7 441.4,329.4 439.9,330.0 438.3,330.6 436.6,331.2 434.9,331.9 433.1,332.5 431.2,333.1 429.2,333.7 427.1,334.2 424.9,334.8 422.6,335.4 420.1,335.9 417.6,336.5 414.9,337.0 412.0,337.5 409.1,338.0 405.9,338.5 402.6,338.9 399.2,339.4 395.5,339.8 391.7,340.2 387.7,340.6 383.6,340.9 379.2,341.2 374.7,341.5 370.0,341.8 365.2,342.0 360.2,342.2 355.2,342.4 350.0,342.5 344.7,342.6 339.4,342.6 334.1,342.6 328.8,342.6 323.5,342.5 318.3,342.4 313.2,342.2 308.2,342.1 303.4,341.8 298.7,341.6 294.1,341.3 289.7,341.0"/>
<polyline points="522.4,70.8 521.0,71.4 519.6,72.1 518.3,72.7 517.0,73.4 515.8,74.0 514.6,74.7 513.5,75.3 512.4,76.0 511.4,76.7 510.4,77.3 509.4,78.0 508.4,78.7 507.5,79.4 506.7,80.1 505.8,80.7 505.0,81.4 504.2,82.1 503.4,82.8 502.7,83.5 502.0,84.2 501.3,84.9 500.6,85.6 499.9,86.3 499.3,87.0 498.7,87.7 498.1,88.4 497.5,89.1 496.9,89.8 496.3,90.5 495.8,91.2 495.2,91.9 494.7,92.6 494.2,93.4 493.7,94.1 493.2,94.8 492.7,95.5 492.3,96.2 491.8,96.9 491.4,97.6 490.9,98.4 490.5,99.1 490.1,99.8 489.7,100.5 489.3,101.2 488.9,101.9 488.5,102.7 488.1,103.4 487.7,104.1 487.4,104.8 487.0,105.5 486.6,106.3 486.3,107.0 486.0,107.7 485.6,108.4 485.3,109.2 485.0,109.9 484.6,110.6 484.3,111.3 484.0,112.1 483.7,112.8 483.4,113.5 483.1,114.2 482.8,115.0 482.5,115.7 482.2,116.4 481.9,117.1 481.7,117.9 481.4,118.6 481.1,119.3 480.8,120.1 480.6,120.8 480.3,121.5 480.0,122.2 479.8,123.0 479.5,123.7 479.3,124.4 479.0,125.2 478.8,125.9 478.5,126.6 478.3,127.3 478.1,128.1 477.8,128.8 477.6,129.5 477.4,130.3 477.1,131.0 476.9,131.7 476.7,132.5 476.5,133.2 476.2,133.9 476.0,134.7 475.8,135.4 475.6,136.1 475.4,136.9 475.2,137.6 475.0,138.3 474.7,139.1 474.5,139.8 474.3,140.5 474.1,141.3 473.9,142.0 473.7,142.7 473.5,143.4 473.3,144.2 473.1,144.9 472.9,145.6 472.7,146.4 472.5,147.1 472.4,147.9 472.2,148.6 472.0,149.3 471.8,150.1 471.6,150.8 471.4,151.5 471.2,152.3 471.0,153.0 470.9,153.7 470.7,154.5 470.5,155.2 470.3,155.9 470.1,156.7 470.0,157.4 469.8,158.1 469.6,158.9 469.4,159.6 469.3,160.3 469.1,161.1 468.9,161.8 468.7,162.5 468.6,163.3 468.4,164.0 468.2,164.7 468.1,165.5 467.9,166.2 467.7,167.0 467.5,167.7 467.4,168.4 467.2,169.2 467.0,169.9 466.9,170.6 466.7,171.4 466.5,172.1 466.4,172.8 466.2,173.6 466.1,174.3 465.9,175.0 465.7,175.8 465.6,176.5 465.4,177.3 465.2,178.0 465.1,178.7 464.9,179.5 464.8,180.2 464.6,180.9 464.4,181.7 464.3,182.4 464.1,183.1 464.0,183.9 463.8,184.6 463.6,185.4 463.5,186.1 463.3,186.8 463.2,187.6 463.0,188.3 462.9,189.0 462.7,189.8 462.5,190.5 462.4,191.2 462.2,192.0 462.1,192.7 461.9,193.5 461.8,194.2 461.6,194.9 461.4,195.7 461.3,196.4 461.1,197.1 461.0,197.9 460.8,198.6 460.7,199.3 460.5,200.1 460.4,200.8 460.2,201.6 460.0,202.3 459.9,203.0 459.7,203.8 459.6,204.5 459.4,205.2 459.3,206.0 459.1,206.7 458.9,207.4 458.8,208.2 458.6,208.9 458.5,209.7 458.3,210.4 458.2,211.1 458.0,211.9 457.8,212.6 457.7,213.3 457.5,214.1 457.4,214.8 457.2,215.5 457.1,216.3 456.9,217.0 456.7,217.7 456.6,218.5 456.4,219.2 456.3,220.0 456.1,220.7 455.9,221.4 455.8,222.2 455.6,222.9 455.4,223.6 455.3,224.4 455.1,225.1 455.0,225.8 454.8,226.6 454.6,227.3 454.5,228.1 454.3,228.8 454.1,229.5 454.0,230.3 453.8,231.0 453.6,231.7 453.5,232.5 453.3,233.2 453.1,233.9 453.0,234.7 452.8,235.4 452.6,236.1 452.4,236.9 452.3,237.6 452.1,238.3 451.9,239.1 451.8,239.8 451.6,240.6 451.4,241.3 451.2,242.0 451.0,242.8 450.9,243.5 450.7,244.2 450.5,245.0 450.3,245.7 450.1,246.4 450.0,247.2 449.8,247.9 449.6,248.6 449.4,249.4 449.2,250.1 449.0,250.8 448.8,251.6 448.7,252.3 448.5,253.0 448.3,253.8 448.1,254.5 447.9,255.2 447.7,256.0 447.5,256.7 447.3,257.4 447.1,258.2 446.9,258.9 446.7,259.6 446.5,260.4 446.3,261.1 446.1,261.8 445.8,262.6 445.6,263.3 445.4,264.0 445.2,264.8 445.0,265.5 444.8,266.2 444.5,267.0 444.3,267.7 444.1,268.4 443.9,269.2 443.6,269.9 443.4,270.6 443.2,271.3 442.9,272.1 442.7,272.8 442.5,273.5 442.2,274.3 442.0,275.0 441.7,275.7 441.5,276.5 441.2,277.2 441.0,277.9 440.7,278.6 440.4,279.4 440.2,280.1 439.9,280.8 439.6,281.6 439.3,282.3 439.1,283.0 438.8,283.7 438.5,284.5 438.2,285.2 437.9,285.9 437.6,286.6 437.3,287.4 437.0,288.1 436.7,288.8 436.3,289.5 436.0,290.3 435.7,291.0 435.4,291.7 435.0,292.4 434.7,293.2 434.3,293.9 434.0,294.6 433.6,295.3 433.2,296.1 432.9,296.8 432.5,297.5 432.1,298.2 431.7,298.9 431.3,299.6 430.9,300.4 430.4,301.1 430.0,301.8 429.6,302.5 429.1,303.2 428.7,303.9 428.2,304.7 427.7,305.4 427.2,306.1 426.7,306.8 426.2,307.5 425.7,308.2 425.2,308.9 424.6,309.6 424.0,310.3 423.5,311.0 422.9,311.7 422.2,312.5 421.6,313.2 421.0,313.9 420.3,314.6 419.6,315.2 418.9,315.9 418.2,316.6 417.4,317.3 416.7,318.0 415.9,318.7 415.0,319.4 414.2,320.1 413.3,320.8 412.4,321.4 411.5,322.1 410.5,322.8 409.5,323.5 408.4,324.1 407.3,324.8 406.2,325.5 405.0,326.1 403.8,326.8 402.5,327.4 401.2,328.1 399.8,328.7 398.3,329.4 396.8,330.0 395.2,330.6 393.6,331.2 391.9,331.9 390.0,332.5 388.1,333.1 386.1,333.7 384.0,334.2 381.8,334.8 379.5,335.4 377.1,335.9 374.5,336.5 371.8,337.0 369.0,337.5 366.0,338.0 362.9,338.5 359.6,338.9 356.1,339.4 352.5,339.8 348.7,340.2 344.7,340.6 340.5,340.9 336.2,341.2 331.7,341.5 327.0,341.8 322.2,342.0 317.2,342.2 312.1,342.4 306.9,342.5 301.7,342.6 296.4,342.6 291.1,342.6 285.8,342.6 280.5,342.5 275.3,342.4 270.2,342.2 265.2,342.1 260.3,341.8 255.6,341.6 251.0,341.3 246.7,341.0"/>
</g>
</g>
<rect x="80" y="40" width="640" height="318.3" fill="none" stroke="#6c6c6c" stroke-width="1.9"/>
<g><text x="71.70" y="368.30" font-size="13.4" textLength="29.0" lengthAdjust="spacingAndGlyphs">-180</text><text x="150.07" y="368.30" font-size="13.4" textLength="29.0" lengthAdjust="spacingAndGlyphs">-135</text><text x="232.45" y="368.30" font-size="13.4" textLength="21.0" lengthAdjust="spacingAndGlyphs">-90</text><text x="310.82" y="368.30" font-size="13.4" textLength="21.0" lengthAdjust="spacingAndGlyphs">-45</text><text x="395.70" y="368.30" font-size="13.4" textLength="8.0" lengthAdjust="spacingAndGlyphs">0</text><text x="470.07" y="368.30" font-size="13.4" textLength="16.0" lengthAdjust="spacingAndGlyphs">45</text><text x="548.45" y="368.30" font-size="13.4" textLength="16.0" lengthAdjust="spacingAndGlyphs">90</text><text x="622.83" y="368.30" font-size="13.4" textLength="24.0" lengthAdjust="spacingAndGlyphs">135</text><text x="701.20" y="368.30" font-size="13.4" textLength="24.0" lengthAdjust="spacingAndGlyphs">180</text><text x="58.60" y="46.95" font-size="13.4" textLength="16.0" lengthAdjust="spacingAndGlyphs">90</text><text x="58.60" y="99.20" font-size="13.4" textLength="16.0" lengthAdjust="spacingAndGlyphs">60</text><text x="58.60" y="151.45" font-size="13.4" textLength="16.0" lengthAdjust="spacingAndGlyphs">30</text><text x="66.60" y="203.70" font-size="13.4" textLength="8.0" lengthAdjust="spacingAndGlyphs">0</text><text x="53.60" y="255.95" font-size="13.4" textLength="21.0" lengthAdjust="spacingAndGlyphs">-30</text><text x="53.60" y="308.20" font-size="13.4" textLength="21.0" lengthAdjust="spacingAndGlyphs">-60</text><text x="53.60" y="360.45" font-size="13.4" textLength="21.0" lengthAdjust="spacingAndGlyphs">-90</text></g>
<text x="174.45" y="31.9" font-size="14.3" textLength="76.85" lengthAdjust="spacingAndGlyphs">2008-09-13</text><text x="267.70" y="31.9" font-size="14.3" textLength="58.00" lengthAdjust="spacingAndGlyphs">Version:</text><text x="329.20" y="31.9" font-size="14.3" textLength="29.00" lengthAdjust="spacingAndGlyphs">5.00</text><text x="366.30" y="31.9" font-size="14.3" textLength="63.80" lengthAdjust="spacingAndGlyphs">Standard</text><text x="446.45" y="31.9" font-size="14.3" textLength="67.35" lengthAdjust="spacingAndGlyphs">Nighttime</text><text x="517.30" y="31.9" font-size="14.3" textLength="35.50" lengthAdjust="spacingAndGlyphs">Orbit</text><text x="557.30" y="31.9" font-size="14.3" textLength="67.40" lengthAdjust="spacingAndGlyphs">Locations</text>
</svg>
</body></html>
